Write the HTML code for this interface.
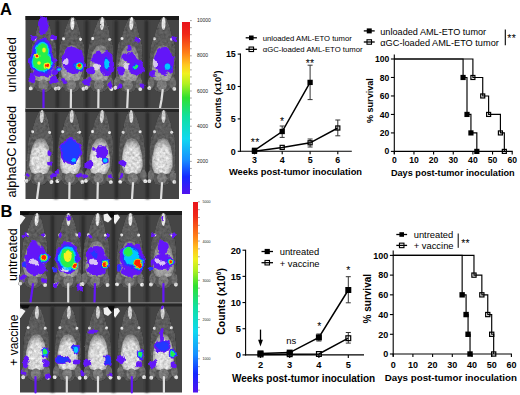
<!DOCTYPE html><html><head><meta charset="utf-8"><style>html,body{margin:0;padding:0;background:#fff;width:520px;height:395px;overflow:hidden}svg{display:block}text{font-family:"Liberation Sans",sans-serif}</style></head><body>
<svg width="520" height="395" viewBox="0 0 520 395">
<defs>
<filter id="soft" filterUnits="userSpaceOnUse" x="0" y="0" width="520" height="395"><feGaussianBlur stdDeviation="0.7"/></filter>
<filter id="lane" filterUnits="userSpaceOnUse" x="0" y="0" width="520" height="395"><feGaussianBlur stdDeviation="1.2"/></filter>
<filter id="glow" filterUnits="userSpaceOnUse" x="0" y="0" width="520" height="395"><feGaussianBlur stdDeviation="0.5"/></filter>
<filter id="blobf" filterUnits="userSpaceOnUse" x="0" y="0" width="520" height="395">
<feTurbulence type="fractalNoise" baseFrequency="0.16" numOctaves="2" seed="3" result="t"/>
<feDisplacementMap in="SourceGraphic" in2="t" scale="6" xChannelSelector="R" yChannelSelector="G" result="d"/>
<feGaussianBlur in="d" stdDeviation="0.45"/>
</filter>
<filter id="blobf2" filterUnits="userSpaceOnUse" x="0" y="0" width="520" height="395">
<feTurbulence type="fractalNoise" baseFrequency="0.16" numOctaves="2" seed="3" result="t"/>
<feDisplacementMap in="SourceGraphic" in2="t" scale="3" xChannelSelector="R" yChannelSelector="G" result="d"/>
<feGaussianBlur in="d" stdDeviation="0.45"/>
</filter>
<filter id="fur" filterUnits="userSpaceOnUse" x="0" y="0" width="520" height="395">
<feTurbulence type="fractalNoise" baseFrequency="0.35" numOctaves="3" seed="7" result="n"/>
<feColorMatrix in="n" type="matrix" values="0.33 0.33 0.33 0 0 0.33 0.33 0.33 0 0 0.33 0.33 0.33 0 0 0 0 0 0 1" result="g"/>
<feComposite in="SourceGraphic" in2="g" operator="arithmetic" k1="1.8" k2="0.1" k3="0" k4="0" result="m"/>
<feDisplacementMap in="m" in2="n" scale="1.6" xChannelSelector="R" yChannelSelector="G" result="d"/>
<feGaussianBlur in="d" stdDeviation="0.55"/>
</filter>
<linearGradient id="cbA" x1="0" y1="0" x2="0" y2="1">
<stop offset="0" stop-color="#e8141c"/><stop offset="0.07" stop-color="#f02818"/><stop offset="0.18" stop-color="#ff8018"/><stop offset="0.25" stop-color="#ffc820"/>
<stop offset="0.30" stop-color="#f0f020"/><stop offset="0.36" stop-color="#b0f020"/><stop offset="0.44" stop-color="#30e030"/><stop offset="0.55" stop-color="#10e0a0"/>
<stop offset="0.68" stop-color="#10d8f0"/><stop offset="0.80" stop-color="#1890ff"/><stop offset="0.90" stop-color="#1428ff"/><stop offset="1" stop-color="#5212ee"/>
</linearGradient>
<linearGradient id="cbB" x1="0" y1="0" x2="0" y2="1">
<stop offset="0" stop-color="#e8141c"/><stop offset="0.07" stop-color="#f02818"/><stop offset="0.18" stop-color="#ff8018"/><stop offset="0.25" stop-color="#ffc820"/>
<stop offset="0.30" stop-color="#f0f020"/><stop offset="0.36" stop-color="#b0f020"/><stop offset="0.44" stop-color="#30e030"/><stop offset="0.55" stop-color="#10e0a0"/>
<stop offset="0.68" stop-color="#10d8f0"/><stop offset="0.80" stop-color="#1890ff"/><stop offset="0.90" stop-color="#1428ff"/><stop offset="1" stop-color="#5212ee"/>
</linearGradient>
</defs>
<text x="0" y="0" font-size="16.5" font-weight="bold" text-anchor="start" transform="translate(0 15) scale(1 1.0)">A</text>
<text x="0" y="0" font-size="16.5" font-weight="bold" text-anchor="start" transform="translate(0.5 216.5) scale(1 1.0)">B</text>
<rect x="25.5" y="16" width="153.5" height="183" fill="#454545"/>
<rect x="25.5" y="16" width="153.5" height="4" fill="#1c1c1c"/>
<g filter="url(#lane)"><rect x="55.8" y="20" width="3.5" height="88" fill="#2c2c2c"/><rect x="85.0" y="20" width="3.5" height="88" fill="#2c2c2c"/><rect x="114.2" y="20" width="3.5" height="88" fill="#2c2c2c"/><rect x="144.8" y="20" width="3.5" height="88" fill="#2c2c2c"/></g>
<g filter="url(#fur)"><g transform="rotate(0.40 43.50 57.00)"><path d="M43.50,27.00 L48.50,32.00 L53.00,38.00 L55.50,45.00 L56.50,57.00 L56.50,69.00 L56.00,77.00 L54.00,85.00 L49.50,91.00 L43.50,93.00 L37.50,91.00 L33.00,85.00 L31.00,77.00 L30.50,69.00 L30.50,57.00 L31.50,45.00 L34.00,38.00 L38.50,32.00 L43.50,27.00 Z" fill="#575757"/><path d="M43.50,17.00 L46.00,18.50 L48.00,22.00 L49.50,26.00 L51.00,31.00 L52.30,37.00 L53.00,42.00 L51.50,46.00 L43.50,47.00 L35.50,46.00 L34.00,42.00 L34.70,37.00 L36.00,31.00 L37.50,26.00 L39.00,22.00 L41.00,18.50 L43.50,17.00 Z" fill="#5c5c5c"/><path d="M43.50,45.00 L48.00,46.50 L51.50,53.00 L53.50,63.00 L54.00,73.00 L51.50,80.00 L43.50,82.00 L35.50,80.00 L33.00,73.00 L33.50,63.00 L35.50,53.00 L39.00,46.50 L43.50,45.00 Z" fill="url(#bga0a0a0)"/><ellipse cx="43.5" cy="85.0" rx="5.0" ry="5.5" fill="#7a7a7a"/><ellipse cx="43.5" cy="23.5" rx="2.0" ry="6.5" fill="#e4e4e4"/><circle cx="35.0" cy="39.0" r="1.5" fill="#e2e2e2"/><ellipse cx="32.5" cy="83.0" rx="3.2" ry="6.0" fill="#6c6c6c"/><circle cx="31.0" cy="88.5" r="1.9" fill="#dedede"/><circle cx="52.0" cy="39.0" r="1.5" fill="#e2e2e2"/><ellipse cx="54.5" cy="83.0" rx="3.2" ry="6.0" fill="#6c6c6c"/><circle cx="56.0" cy="88.5" r="1.9" fill="#dedede"/></g></g>
<g filter="url(#fur)"><g transform="rotate(1.21 71.70 57.00)"><path d="M71.70,27.00 L76.70,32.00 L81.20,38.00 L83.70,45.00 L84.70,57.00 L84.70,69.00 L84.20,77.00 L82.20,85.00 L77.70,91.00 L71.70,93.00 L65.70,91.00 L61.20,85.00 L59.20,77.00 L58.70,69.00 L58.70,57.00 L59.70,45.00 L62.20,38.00 L66.70,32.00 L71.70,27.00 Z" fill="#575757"/><path d="M71.70,17.00 L74.20,18.50 L76.20,22.00 L77.70,26.00 L79.20,31.00 L80.50,37.00 L81.20,42.00 L79.70,46.00 L71.70,47.00 L63.70,46.00 L62.20,42.00 L62.90,37.00 L64.20,31.00 L65.70,26.00 L67.20,22.00 L69.20,18.50 L71.70,17.00 Z" fill="#5c5c5c"/><path d="M71.70,45.00 L76.20,46.50 L79.70,53.00 L81.70,63.00 L82.20,73.00 L79.70,80.00 L71.70,82.00 L63.70,80.00 L61.20,73.00 L61.70,63.00 L63.70,53.00 L67.20,46.50 L71.70,45.00 Z" fill="url(#bga0a0a0)"/><ellipse cx="71.69999999999999" cy="85.0" rx="5.0" ry="5.5" fill="#7a7a7a"/><ellipse cx="71.69999999999999" cy="23.5" rx="2.0" ry="6.5" fill="#e4e4e4"/><circle cx="63.19999999999999" cy="39.0" r="1.5" fill="#e2e2e2"/><ellipse cx="60.69999999999999" cy="83.0" rx="3.2" ry="6.0" fill="#6c6c6c"/><circle cx="59.19999999999999" cy="88.5" r="1.9" fill="#dedede"/><circle cx="80.19999999999999" cy="39.0" r="1.5" fill="#e2e2e2"/><ellipse cx="82.69999999999999" cy="83.0" rx="3.2" ry="6.0" fill="#6c6c6c"/><circle cx="84.19999999999999" cy="88.5" r="1.9" fill="#dedede"/></g></g>
<g filter="url(#fur)"><g transform="rotate(2.76 100.35 57.00)"><path d="M100.35,27.00 L105.35,32.00 L109.85,38.00 L112.35,45.00 L113.35,57.00 L113.35,69.00 L112.85,77.00 L110.85,85.00 L106.35,91.00 L100.35,93.00 L94.35,91.00 L89.85,85.00 L87.85,77.00 L87.35,69.00 L87.35,57.00 L88.35,45.00 L90.85,38.00 L95.35,32.00 L100.35,27.00 Z" fill="#575757"/><path d="M100.35,17.00 L102.85,18.50 L104.85,22.00 L106.35,26.00 L107.85,31.00 L109.15,37.00 L109.85,42.00 L108.35,46.00 L100.35,47.00 L92.35,46.00 L90.85,42.00 L91.55,37.00 L92.85,31.00 L94.35,26.00 L95.85,22.00 L97.85,18.50 L100.35,17.00 Z" fill="#5c5c5c"/><path d="M100.35,45.00 L104.85,46.50 L108.35,53.00 L110.35,63.00 L110.85,73.00 L108.35,80.00 L100.35,82.00 L92.35,80.00 L89.85,73.00 L90.35,63.00 L92.35,53.00 L95.85,46.50 L100.35,45.00 Z" fill="url(#bga0a0a0)"/><ellipse cx="100.35" cy="85.0" rx="5.0" ry="5.5" fill="#7a7a7a"/><ellipse cx="100.35" cy="23.5" rx="2.0" ry="6.5" fill="#e4e4e4"/><circle cx="91.85" cy="39.0" r="1.5" fill="#e2e2e2"/><ellipse cx="89.35" cy="83.0" rx="3.2" ry="6.0" fill="#6c6c6c"/><circle cx="87.85" cy="88.5" r="1.9" fill="#dedede"/><circle cx="108.85" cy="39.0" r="1.5" fill="#e2e2e2"/><ellipse cx="111.35" cy="83.0" rx="3.2" ry="6.0" fill="#6c6c6c"/><circle cx="112.85" cy="88.5" r="1.9" fill="#dedede"/></g></g>
<g filter="url(#fur)"><g transform="rotate(3.16 129.55 57.00)"><path d="M129.55,27.00 L134.55,32.00 L139.05,38.00 L141.55,45.00 L142.55,57.00 L142.55,69.00 L142.05,77.00 L140.05,85.00 L135.55,91.00 L129.55,93.00 L123.55,91.00 L119.05,85.00 L117.05,77.00 L116.55,69.00 L116.55,57.00 L117.55,45.00 L120.05,38.00 L124.55,32.00 L129.55,27.00 Z" fill="#575757"/><path d="M129.55,17.00 L132.05,18.50 L134.05,22.00 L135.55,26.00 L137.05,31.00 L138.35,37.00 L139.05,42.00 L137.55,46.00 L129.55,47.00 L121.55,46.00 L120.05,42.00 L120.75,37.00 L122.05,31.00 L123.55,26.00 L125.05,22.00 L127.05,18.50 L129.55,17.00 Z" fill="#5c5c5c"/><path d="M129.55,45.00 L134.05,46.50 L137.55,53.00 L139.55,63.00 L140.05,73.00 L137.55,80.00 L129.55,82.00 L121.55,80.00 L119.05,73.00 L119.55,63.00 L121.55,53.00 L125.05,46.50 L129.55,45.00 Z" fill="url(#bga0a0a0)"/><ellipse cx="129.55" cy="85.0" rx="5.0" ry="5.5" fill="#7a7a7a"/><ellipse cx="129.55" cy="23.5" rx="2.0" ry="6.5" fill="#e4e4e4"/><circle cx="121.05000000000001" cy="39.0" r="1.5" fill="#e2e2e2"/><ellipse cx="118.55000000000001" cy="83.0" rx="3.2" ry="6.0" fill="#6c6c6c"/><circle cx="117.05000000000001" cy="88.5" r="1.9" fill="#dedede"/><circle cx="138.05" cy="39.0" r="1.5" fill="#e2e2e2"/><ellipse cx="140.55" cy="83.0" rx="3.2" ry="6.0" fill="#6c6c6c"/><circle cx="142.05" cy="88.5" r="1.9" fill="#dedede"/></g></g>
<g filter="url(#fur)"><g transform="rotate(1.55 162.65 57.00)"><path d="M162.65,27.00 L167.65,32.00 L172.15,38.00 L174.65,45.00 L175.65,57.00 L175.65,69.00 L175.15,77.00 L173.15,85.00 L168.65,91.00 L162.65,93.00 L156.65,91.00 L152.15,85.00 L150.15,77.00 L149.65,69.00 L149.65,57.00 L150.65,45.00 L153.15,38.00 L157.65,32.00 L162.65,27.00 Z" fill="#575757"/><path d="M162.65,17.00 L165.15,18.50 L167.15,22.00 L168.65,26.00 L170.15,31.00 L171.45,37.00 L172.15,42.00 L170.65,46.00 L162.65,47.00 L154.65,46.00 L153.15,42.00 L153.85,37.00 L155.15,31.00 L156.65,26.00 L158.15,22.00 L160.15,18.50 L162.65,17.00 Z" fill="#5c5c5c"/><path d="M162.65,45.00 L167.15,46.50 L170.65,53.00 L172.65,63.00 L173.15,73.00 L170.65,80.00 L162.65,82.00 L154.65,80.00 L152.15,73.00 L152.65,63.00 L154.65,53.00 L158.15,46.50 L162.65,45.00 Z" fill="url(#bga0a0a0)"/><ellipse cx="162.65" cy="85.0" rx="5.0" ry="5.5" fill="#7a7a7a"/><ellipse cx="162.65" cy="23.5" rx="2.0" ry="6.5" fill="#e4e4e4"/><circle cx="154.15" cy="39.0" r="1.5" fill="#e2e2e2"/><ellipse cx="151.65" cy="83.0" rx="3.2" ry="6.0" fill="#6c6c6c"/><circle cx="150.15" cy="88.5" r="1.9" fill="#dedede"/><circle cx="171.15" cy="39.0" r="1.5" fill="#e2e2e2"/><ellipse cx="173.65" cy="83.0" rx="3.2" ry="6.0" fill="#6c6c6c"/><circle cx="175.15" cy="88.5" r="1.9" fill="#dedede"/></g></g>
<polyline points="43.5,90 43.5,108" fill="none" stroke="#6418f8" stroke-width="2.2" stroke-linecap="round" filter="url(#soft)"/>
<polyline points="71,90 70.8,108" fill="none" stroke="#dedede" stroke-width="2.2" stroke-linecap="round" filter="url(#soft)"/>
<polyline points="98.5,90 98.3,108" fill="none" stroke="#dedede" stroke-width="2.2" stroke-linecap="round" filter="url(#soft)"/>
<polyline points="128,90 127.2,108" fill="none" stroke="#dedede" stroke-width="2.2" stroke-linecap="round" filter="url(#soft)"/>
<polyline points="162.7,90 161.5,100 160,108" fill="none" stroke="#dedede" stroke-width="2.2" stroke-linecap="round" filter="url(#soft)"/>
<g filter="url(#blobf)">
<ellipse cx="43.5" cy="25" rx="4.50" ry="9.00" fill="#6418f8"/>
<ellipse cx="34" cy="38" rx="3.50" ry="2.50" fill="#6418f8"/>
<ellipse cx="53.5" cy="38" rx="3.50" ry="2.50" fill="#6418f8"/>
<ellipse cx="42.5" cy="51" rx="9.50" ry="13.00" fill="#6418f8"/>
<ellipse cx="42.2" cy="62" rx="13.30" ry="12.00" fill="#6418f8"/>
<ellipse cx="42" cy="73" rx="10.00" ry="4.00" fill="#6418f8"/>
<ellipse cx="31" cy="78" rx="3.50" ry="5.00" fill="#6418f8"/>
<ellipse cx="54" cy="80" rx="4.00" ry="4.00" fill="#6418f8"/>
<ellipse cx="55" cy="72" rx="3.00" ry="3.00" fill="#6418f8"/>
<ellipse cx="73" cy="60" rx="11.00" ry="14.00" fill="#6418f8"/>
<ellipse cx="79.3" cy="66.2" rx="6.00" ry="6.00" fill="#6418f8"/>
<ellipse cx="59" cy="69" rx="3.00" ry="3.00" fill="#6418f8"/>
<ellipse cx="64" cy="81" rx="2.50" ry="3.00" fill="#6418f8"/>
<ellipse cx="85" cy="82" rx="3.00" ry="3.00" fill="#6418f8"/>
<ellipse cx="98.3" cy="58.4" rx="6.00" ry="7.00" fill="#6418f8"/>
<ellipse cx="106.5" cy="63" rx="7.50" ry="13.00" fill="#6418f8"/>
<ellipse cx="107" cy="64" rx="4.50" ry="8.00" fill="#6418f8"/>
<ellipse cx="91" cy="70.4" rx="4.00" ry="4.00" fill="#6418f8"/>
<ellipse cx="89" cy="82" rx="2.50" ry="3.00" fill="#6418f8"/>
<ellipse cx="110" cy="85" rx="2.50" ry="3.00" fill="#6418f8"/>
<ellipse cx="129.6" cy="48.7" rx="3.00" ry="3.00" fill="#6418f8"/>
<ellipse cx="136.8" cy="40.3" rx="2.50" ry="2.50" fill="#6418f8"/>
<ellipse cx="130" cy="58.4" rx="8.00" ry="5.00" fill="#6418f8" transform="rotate(20 130 58.4)"/>
<ellipse cx="136" cy="67" rx="8.00" ry="9.00" fill="#6418f8"/>
<ellipse cx="135.5" cy="67" rx="5.00" ry="3.00" fill="#6418f8" transform="rotate(-40 135.5 67)"/>
<ellipse cx="121" cy="70.4" rx="4.00" ry="4.00" fill="#6418f8"/>
<ellipse cx="120" cy="86" rx="2.50" ry="2.50" fill="#6418f8"/>
<ellipse cx="142" cy="86" rx="2.50" ry="2.50" fill="#6418f8"/>
<ellipse cx="164" cy="61" rx="10.00" ry="14.00" fill="#6418f8"/>
<ellipse cx="167.5" cy="66.6" rx="4.50" ry="5.00" fill="#6418f8"/>
<ellipse cx="152" cy="74" rx="3.00" ry="3.00" fill="#6418f8"/>
<ellipse cx="174.8" cy="39" rx="2.50" ry="2.50" fill="#6418f8"/>
<ellipse cx="42.5" cy="51" rx="8.07" ry="11.05" fill="#2238ff"/>
<ellipse cx="42.2" cy="62" rx="11.97" ry="10.80" fill="#2238ff"/>
<ellipse cx="79.3" cy="66.2" rx="4.68" ry="4.68" fill="#2238ff"/>
<ellipse cx="59" cy="69" rx="2.34" ry="2.34" fill="#2238ff"/>
<ellipse cx="107" cy="64" rx="3.51" ry="6.24" fill="#2238ff"/>
<ellipse cx="135.5" cy="67" rx="3.90" ry="2.34" fill="#2238ff" transform="rotate(-40 135.5 67)"/>
<ellipse cx="167.5" cy="66.6" rx="3.51" ry="3.90" fill="#2238ff"/>
</g>
<g filter="url(#blobf2)">
<ellipse cx="42.5" cy="51" rx="6.84" ry="9.36" fill="#00c8ff"/>
<ellipse cx="42.2" cy="62" rx="10.64" ry="9.60" fill="#00c8ff"/>
<ellipse cx="79.3" cy="66.2" rx="3.72" ry="3.72" fill="#00c8ff"/>
<ellipse cx="59" cy="69" rx="1.86" ry="1.86" fill="#00c8ff"/>
<ellipse cx="107" cy="64" rx="2.79" ry="4.96" fill="#00c8ff"/>
<ellipse cx="135.5" cy="67" rx="3.10" ry="1.86" fill="#00c8ff" transform="rotate(-40 135.5 67)"/>
<ellipse cx="167.5" cy="66.6" rx="2.79" ry="3.10" fill="#00c8ff"/>
<ellipse cx="42.5" cy="51" rx="5.70" ry="7.80" fill="#28f048"/>
<ellipse cx="42.2" cy="62" rx="9.31" ry="8.40" fill="#28f048"/>
<ellipse cx="79.3" cy="66.2" rx="3.00" ry="3.00" fill="#28f048"/>
<ellipse cx="135.5" cy="67" rx="2.50" ry="1.50" fill="#28f048" transform="rotate(-40 135.5 67)"/>
<ellipse cx="37" cy="56" rx="2.40" ry="2.40" fill="#f8f020"/>
<ellipse cx="47" cy="66" rx="3.40" ry="3.40" fill="#f8f020"/>
<ellipse cx="39" cy="63" rx="1.80" ry="1.80" fill="#f8f020"/>
<ellipse cx="44" cy="50" rx="1.80" ry="2.50" fill="#f8f020"/>
<ellipse cx="79.3" cy="66.2" rx="2.40" ry="2.40" fill="#f8f020"/>
<ellipse cx="37" cy="56" rx="1.35" ry="1.35" fill="#ff2000"/>
<ellipse cx="47" cy="66" rx="2.20" ry="2.20" fill="#ff2000"/>
<ellipse cx="79.3" cy="66.2" rx="1.80" ry="1.80" fill="#ff2000"/>
</g>
<g filter="url(#blobf)"><ellipse cx="66" cy="62" rx="2.5" ry="3" fill="#e8e0f0" opacity="0.85"/><ellipse cx="97" cy="67" rx="3" ry="2.5" fill="#e8e0f0" opacity="0.85"/><ellipse cx="126" cy="66" rx="2.5" ry="3" fill="#e8e0f0" opacity="0.85"/><ellipse cx="155.5" cy="63" rx="2.5" ry="3.5" fill="#e8e0f0" opacity="0.85"/></g>
<rect x="25.5" y="108" width="153.5" height="1" fill="#9a9a9a"/>
<rect x="25.5" y="109" width="153.5" height="3" fill="#262626"/>
<g filter="url(#lane)"><rect x="54.2" y="112" width="3.5" height="87" fill="#2c2c2c"/><rect x="84.2" y="112" width="3.5" height="87" fill="#2c2c2c"/><rect x="114.8" y="112" width="3.5" height="87" fill="#2c2c2c"/><rect x="145.8" y="112" width="3.5" height="87" fill="#2c2c2c"/></g>
<g filter="url(#fur)"><g transform="rotate(2.49 40.35 150.00)"><path d="M40.35,120.00 L45.35,125.00 L49.85,131.00 L52.35,138.00 L53.35,150.00 L53.35,162.00 L52.85,170.00 L50.85,178.00 L46.35,184.00 L40.35,186.00 L34.35,184.00 L29.85,178.00 L27.85,170.00 L27.35,162.00 L27.35,150.00 L28.35,138.00 L30.85,131.00 L35.35,125.00 L40.35,120.00 Z" fill="#575757"/><path d="M40.35,110.00 L42.85,111.50 L44.85,115.00 L46.35,119.00 L47.85,124.00 L49.15,130.00 L49.85,135.00 L48.35,139.00 L40.35,140.00 L32.35,139.00 L30.85,135.00 L31.55,130.00 L32.85,124.00 L34.35,119.00 L35.85,115.00 L37.85,111.50 L40.35,110.00 Z" fill="#5c5c5c"/><path d="M40.35,138.00 L44.85,139.50 L48.35,146.00 L50.35,156.00 L50.85,166.00 L48.35,173.00 L40.35,175.00 L32.35,173.00 L29.85,166.00 L30.35,156.00 L32.35,146.00 L35.85,139.50 L40.35,138.00 Z" fill="url(#bgdadada)"/><ellipse cx="40.35" cy="178.0" rx="5.0" ry="5.5" fill="#7a7a7a"/><ellipse cx="40.35" cy="116.5" rx="2.0" ry="6.5" fill="#d0d0d0"/><circle cx="31.85" cy="132.0" r="1.5" fill="#e2e2e2"/><ellipse cx="29.35" cy="176.0" rx="3.2" ry="6.0" fill="#6c6c6c"/><circle cx="27.85" cy="181.5" r="1.9" fill="#dedede"/><circle cx="48.85" cy="132.0" r="1.5" fill="#e2e2e2"/><ellipse cx="51.35" cy="176.0" rx="3.2" ry="6.0" fill="#6c6c6c"/><circle cx="52.85" cy="181.5" r="1.9" fill="#dedede"/></g></g>
<g filter="url(#fur)"><g transform="rotate(1.68 70.75 150.00)"><path d="M70.75,120.00 L75.75,125.00 L80.25,131.00 L82.75,138.00 L83.75,150.00 L83.75,162.00 L83.25,170.00 L81.25,178.00 L76.75,184.00 L70.75,186.00 L64.75,184.00 L60.25,178.00 L58.25,170.00 L57.75,162.00 L57.75,150.00 L58.75,138.00 L61.25,131.00 L65.75,125.00 L70.75,120.00 Z" fill="#575757"/><path d="M70.75,110.00 L73.25,111.50 L75.25,115.00 L76.75,119.00 L78.25,124.00 L79.55,130.00 L80.25,135.00 L78.75,139.00 L70.75,140.00 L62.75,139.00 L61.25,135.00 L61.95,130.00 L63.25,124.00 L64.75,119.00 L66.25,115.00 L68.25,111.50 L70.75,110.00 Z" fill="#5c5c5c"/><path d="M70.75,138.00 L75.25,139.50 L78.75,146.00 L80.75,156.00 L81.25,166.00 L78.75,173.00 L70.75,175.00 L62.75,173.00 L60.25,166.00 L60.75,156.00 L62.75,146.00 L66.25,139.50 L70.75,138.00 Z" fill="url(#bgdadada)"/><ellipse cx="70.75" cy="178.0" rx="5.0" ry="5.5" fill="#7a7a7a"/><ellipse cx="70.75" cy="116.5" rx="2.0" ry="6.5" fill="#d0d0d0"/><circle cx="62.25" cy="132.0" r="1.5" fill="#e2e2e2"/><ellipse cx="59.75" cy="176.0" rx="3.2" ry="6.0" fill="#6c6c6c"/><circle cx="58.25" cy="181.5" r="1.9" fill="#dedede"/><circle cx="79.25" cy="132.0" r="1.5" fill="#e2e2e2"/><ellipse cx="81.75" cy="176.0" rx="3.2" ry="6.0" fill="#6c6c6c"/><circle cx="83.25" cy="181.5" r="1.9" fill="#dedede"/></g></g>
<g filter="url(#fur)"><g transform="rotate(3.10 100.10 150.00)"><path d="M100.10,120.00 L105.10,125.00 L109.60,131.00 L112.10,138.00 L113.10,150.00 L113.10,162.00 L112.60,170.00 L110.60,178.00 L106.10,184.00 L100.10,186.00 L94.10,184.00 L89.60,178.00 L87.60,170.00 L87.10,162.00 L87.10,150.00 L88.10,138.00 L90.60,131.00 L95.10,125.00 L100.10,120.00 Z" fill="#575757"/><path d="M100.10,110.00 L102.60,111.50 L104.60,115.00 L106.10,119.00 L107.60,124.00 L108.90,130.00 L109.60,135.00 L108.10,139.00 L100.10,140.00 L92.10,139.00 L90.60,135.00 L91.30,130.00 L92.60,124.00 L94.10,119.00 L95.60,115.00 L97.60,111.50 L100.10,110.00 Z" fill="#5c5c5c"/><path d="M100.10,138.00 L104.60,139.50 L108.10,146.00 L110.10,156.00 L110.60,166.00 L108.10,173.00 L100.10,175.00 L92.10,173.00 L89.60,166.00 L90.10,156.00 L92.10,146.00 L95.60,139.50 L100.10,138.00 Z" fill="url(#bgdadada)"/><ellipse cx="100.1" cy="178.0" rx="5.0" ry="5.5" fill="#7a7a7a"/><ellipse cx="100.1" cy="116.5" rx="2.0" ry="6.5" fill="#d0d0d0"/><circle cx="91.6" cy="132.0" r="1.5" fill="#e2e2e2"/><ellipse cx="89.1" cy="176.0" rx="3.2" ry="6.0" fill="#6c6c6c"/><circle cx="87.6" cy="181.5" r="1.9" fill="#dedede"/><circle cx="108.6" cy="132.0" r="1.5" fill="#e2e2e2"/><ellipse cx="111.1" cy="176.0" rx="3.2" ry="6.0" fill="#6c6c6c"/><circle cx="112.6" cy="181.5" r="1.9" fill="#dedede"/></g></g>
<g filter="url(#fur)"><g transform="rotate(-1.35 132.00 150.00)"><path d="M132.00,120.00 L137.00,125.00 L141.50,131.00 L144.00,138.00 L145.00,150.00 L145.00,162.00 L144.50,170.00 L142.50,178.00 L138.00,184.00 L132.00,186.00 L126.00,184.00 L121.50,178.00 L119.50,170.00 L119.00,162.00 L119.00,150.00 L120.00,138.00 L122.50,131.00 L127.00,125.00 L132.00,120.00 Z" fill="#575757"/><path d="M132.00,110.00 L134.50,111.50 L136.50,115.00 L138.00,119.00 L139.50,124.00 L140.80,130.00 L141.50,135.00 L140.00,139.00 L132.00,140.00 L124.00,139.00 L122.50,135.00 L123.20,130.00 L124.50,124.00 L126.00,119.00 L127.50,115.00 L129.50,111.50 L132.00,110.00 Z" fill="#5c5c5c"/><path d="M132.00,138.00 L136.50,139.50 L140.00,146.00 L142.00,156.00 L142.50,166.00 L140.00,173.00 L132.00,175.00 L124.00,173.00 L121.50,166.00 L122.00,156.00 L124.00,146.00 L127.50,139.50 L132.00,138.00 Z" fill="url(#bgdadada)"/><ellipse cx="132.0" cy="178.0" rx="5.0" ry="5.5" fill="#7a7a7a"/><ellipse cx="132.0" cy="116.5" rx="2.0" ry="6.5" fill="#d0d0d0"/><circle cx="123.5" cy="132.0" r="1.5" fill="#e2e2e2"/><ellipse cx="121.0" cy="176.0" rx="3.2" ry="6.0" fill="#6c6c6c"/><circle cx="119.5" cy="181.5" r="1.9" fill="#dedede"/><circle cx="140.5" cy="132.0" r="1.5" fill="#e2e2e2"/><ellipse cx="143.0" cy="176.0" rx="3.2" ry="6.0" fill="#6c6c6c"/><circle cx="144.5" cy="181.5" r="1.9" fill="#dedede"/></g></g>
<g filter="url(#fur)"><g transform="rotate(1.55 162.65 150.00)"><path d="M162.65,120.00 L167.65,125.00 L172.15,131.00 L174.65,138.00 L175.65,150.00 L175.65,162.00 L175.15,170.00 L173.15,178.00 L168.65,184.00 L162.65,186.00 L156.65,184.00 L152.15,178.00 L150.15,170.00 L149.65,162.00 L149.65,150.00 L150.65,138.00 L153.15,131.00 L157.65,125.00 L162.65,120.00 Z" fill="#575757"/><path d="M162.65,110.00 L165.15,111.50 L167.15,115.00 L168.65,119.00 L170.15,124.00 L171.45,130.00 L172.15,135.00 L170.65,139.00 L162.65,140.00 L154.65,139.00 L153.15,135.00 L153.85,130.00 L155.15,124.00 L156.65,119.00 L158.15,115.00 L160.15,111.50 L162.65,110.00 Z" fill="#5c5c5c"/><path d="M162.65,138.00 L167.15,139.50 L170.65,146.00 L172.65,156.00 L173.15,166.00 L170.65,173.00 L162.65,175.00 L154.65,173.00 L152.15,166.00 L152.65,156.00 L154.65,146.00 L158.15,139.50 L162.65,138.00 Z" fill="url(#bgdadada)"/><ellipse cx="162.65" cy="178.0" rx="5.0" ry="5.5" fill="#7a7a7a"/><ellipse cx="162.65" cy="116.5" rx="2.0" ry="6.5" fill="#d0d0d0"/><circle cx="154.15" cy="132.0" r="1.5" fill="#e2e2e2"/><ellipse cx="151.65" cy="176.0" rx="3.2" ry="6.0" fill="#6c6c6c"/><circle cx="150.15" cy="181.5" r="1.9" fill="#dedede"/><circle cx="171.15" cy="132.0" r="1.5" fill="#e2e2e2"/><ellipse cx="173.65" cy="176.0" rx="3.2" ry="6.0" fill="#6c6c6c"/><circle cx="175.15" cy="181.5" r="1.9" fill="#dedede"/></g></g>
<polyline points="39,183 37,199" fill="none" stroke="#dedede" stroke-width="2.2" stroke-linecap="round" filter="url(#soft)"/>
<polyline points="69.5,183 69.3,199" fill="none" stroke="#dedede" stroke-width="2.2" stroke-linecap="round" filter="url(#soft)"/>
<polyline points="97.8,183 97.5,199" fill="none" stroke="#dedede" stroke-width="2.2" stroke-linecap="round" filter="url(#soft)"/>
<polyline points="133,183 132,199" fill="none" stroke="#dedede" stroke-width="2.2" stroke-linecap="round" filter="url(#soft)"/>
<polyline points="162,183 161,199" fill="none" stroke="#dedede" stroke-width="2.2" stroke-linecap="round" filter="url(#soft)"/>
<g filter="url(#blobf)">
<ellipse cx="49.5" cy="153.5" rx="2.00" ry="2.50" fill="#6418f8"/>
<ellipse cx="50.6" cy="164" rx="2.50" ry="2.50" fill="#6418f8"/>
<ellipse cx="27.3" cy="175.6" rx="2.50" ry="2.50" fill="#6418f8"/>
<ellipse cx="70.5" cy="151" rx="11.00" ry="13.00" fill="#6418f8"/>
<ellipse cx="74" cy="160" rx="3.50" ry="3.50" fill="#6418f8"/>
<ellipse cx="54.1" cy="175.6" rx="3.00" ry="2.50" fill="#6418f8"/>
<ellipse cx="57.6" cy="172" rx="2.00" ry="2.00" fill="#6418f8"/>
<ellipse cx="79.8" cy="175.6" rx="3.00" ry="2.50" fill="#6418f8"/>
<ellipse cx="102" cy="152" rx="6.50" ry="7.00" fill="#6418f8"/>
<ellipse cx="105.2" cy="160.4" rx="3.50" ry="3.50" fill="#6418f8"/>
<ellipse cx="94" cy="148.8" rx="2.00" ry="2.00" fill="#6418f8"/>
<ellipse cx="89.3" cy="165" rx="4.00" ry="4.00" fill="#6418f8"/>
<ellipse cx="84.7" cy="176.8" rx="2.50" ry="2.50" fill="#6418f8"/>
<ellipse cx="110.3" cy="176.8" rx="2.50" ry="2.50" fill="#6418f8"/>
<ellipse cx="122" cy="162.8" rx="3.50" ry="3.50" fill="#6418f8"/>
<ellipse cx="121" cy="176" rx="2.00" ry="2.00" fill="#6418f8"/>
<ellipse cx="70.5" cy="151" rx="9.24" ry="10.92" fill="#2238ff"/>
<ellipse cx="74" cy="160" rx="3.50" ry="3.50" fill="#2238ff"/>
<ellipse cx="105.2" cy="160.4" rx="2.73" ry="2.73" fill="#2238ff"/>
</g>
<g filter="url(#blobf2)">
<ellipse cx="74" cy="160" rx="2.10" ry="2.10" fill="#00c8ff"/>
<ellipse cx="105.2" cy="160.4" rx="2.17" ry="2.17" fill="#00c8ff"/>
</g>
<rect x="182" y="22" width="8" height="172" fill="url(#cbA)"/>
<line x1="190" y1="20.6" x2="191.8" y2="20.6" stroke="#666" stroke-width="0.6"/>
<line x1="190" y1="27.64" x2="191.8" y2="27.64" stroke="#666" stroke-width="0.6"/>
<line x1="190" y1="34.68000000000001" x2="191.8" y2="34.68000000000001" stroke="#666" stroke-width="0.6"/>
<line x1="190" y1="41.72" x2="191.8" y2="41.72" stroke="#666" stroke-width="0.6"/>
<line x1="190" y1="48.760000000000005" x2="191.8" y2="48.760000000000005" stroke="#666" stroke-width="0.6"/>
<line x1="190" y1="55.800000000000004" x2="191.8" y2="55.800000000000004" stroke="#666" stroke-width="0.6"/>
<line x1="190" y1="62.84" x2="191.8" y2="62.84" stroke="#666" stroke-width="0.6"/>
<line x1="190" y1="69.88000000000001" x2="191.8" y2="69.88000000000001" stroke="#666" stroke-width="0.6"/>
<line x1="190" y1="76.92000000000002" x2="191.8" y2="76.92000000000002" stroke="#666" stroke-width="0.6"/>
<line x1="190" y1="83.96000000000001" x2="191.8" y2="83.96000000000001" stroke="#666" stroke-width="0.6"/>
<line x1="190" y1="91.0" x2="191.8" y2="91.0" stroke="#666" stroke-width="0.6"/>
<line x1="190" y1="98.04000000000002" x2="191.8" y2="98.04000000000002" stroke="#666" stroke-width="0.6"/>
<line x1="190" y1="105.08000000000001" x2="191.8" y2="105.08000000000001" stroke="#666" stroke-width="0.6"/>
<line x1="190" y1="112.12" x2="191.8" y2="112.12" stroke="#666" stroke-width="0.6"/>
<line x1="190" y1="119.16000000000003" x2="191.8" y2="119.16000000000003" stroke="#666" stroke-width="0.6"/>
<line x1="190" y1="126.19999999999999" x2="191.8" y2="126.19999999999999" stroke="#666" stroke-width="0.6"/>
<line x1="190" y1="133.24" x2="191.8" y2="133.24" stroke="#666" stroke-width="0.6"/>
<line x1="190" y1="140.28000000000003" x2="191.8" y2="140.28000000000003" stroke="#666" stroke-width="0.6"/>
<line x1="190" y1="147.32" x2="191.8" y2="147.32" stroke="#666" stroke-width="0.6"/>
<line x1="190" y1="154.36" x2="191.8" y2="154.36" stroke="#666" stroke-width="0.6"/>
<line x1="190" y1="161.4" x2="191.8" y2="161.4" stroke="#666" stroke-width="0.6"/>
<line x1="190" y1="168.44" x2="191.8" y2="168.44" stroke="#666" stroke-width="0.6"/>
<line x1="190" y1="175.48000000000002" x2="191.8" y2="175.48000000000002" stroke="#666" stroke-width="0.6"/>
<line x1="190" y1="182.52" x2="191.8" y2="182.52" stroke="#666" stroke-width="0.6"/>
<line x1="190" y1="189.56" x2="191.8" y2="189.56" stroke="#666" stroke-width="0.6"/>
<text x="0" y="0" font-size="5" font-weight="normal" text-anchor="start" transform="translate(197 22.35) scale(1 1.0)" fill="#222">10000</text>
<text x="0" y="0" font-size="5" font-weight="normal" text-anchor="start" transform="translate(197 57.35) scale(1 1.0)" fill="#222">8000</text>
<text x="0" y="0" font-size="5" font-weight="normal" text-anchor="start" transform="translate(197 93.25) scale(1 1.0)" fill="#222">6000</text>
<text x="0" y="0" font-size="5" font-weight="normal" text-anchor="start" transform="translate(197 127.75) scale(1 1.0)" fill="#222">4000</text>
<text x="0" y="0" font-size="5" font-weight="normal" text-anchor="start" transform="translate(197 163.25) scale(1 1.0)" fill="#222">2000</text>
<rect x="20" y="211" width="162" height="181.5" fill="#454545"/>
<rect x="20" y="211" width="162" height="4" fill="#1c1c1c"/>
<g filter="url(#lane)"><rect x="50.8" y="215" width="3.5" height="87.5" fill="#2c2c2c"/><rect x="81.2" y="215" width="3.5" height="87.5" fill="#2c2c2c"/><rect x="111.8" y="215" width="3.5" height="87.5" fill="#2c2c2c"/><rect x="145.2" y="215" width="3.5" height="87.5" fill="#2c2c2c"/></g>
<g filter="url(#fur)"><g transform="rotate(3.50 34.60 253.00)"><path d="M34.60,223.00 L39.60,228.00 L44.10,234.00 L46.60,241.00 L47.60,253.00 L47.60,265.00 L47.10,273.00 L45.10,281.00 L40.60,287.00 L34.60,289.00 L28.60,287.00 L24.10,281.00 L22.10,273.00 L21.60,265.00 L21.60,253.00 L22.60,241.00 L25.10,234.00 L29.60,228.00 L34.60,223.00 Z" fill="#575757"/><path d="M34.60,213.00 L37.10,214.50 L39.10,218.00 L40.60,222.00 L42.10,227.00 L43.40,233.00 L44.10,238.00 L42.60,242.00 L34.60,243.00 L26.60,242.00 L25.10,238.00 L25.80,233.00 L27.10,227.00 L28.60,222.00 L30.10,218.00 L32.10,214.50 L34.60,213.00 Z" fill="#5c5c5c"/><path d="M34.60,241.00 L39.10,242.50 L42.60,249.00 L44.60,259.00 L45.10,269.00 L42.60,276.00 L34.60,278.00 L26.60,276.00 L24.10,269.00 L24.60,259.00 L26.60,249.00 L30.10,242.50 L34.60,241.00 Z" fill="url(#bga0a0a0)"/><ellipse cx="34.6" cy="281.0" rx="5.0" ry="5.5" fill="#7a7a7a"/><ellipse cx="34.6" cy="219.5" rx="2.0" ry="6.5" fill="#e0e0e0"/><circle cx="26.1" cy="235.0" r="1.5" fill="#e2e2e2"/><ellipse cx="23.6" cy="279.0" rx="3.2" ry="6.0" fill="#6c6c6c"/><circle cx="22.1" cy="284.5" r="1.9" fill="#dedede"/><circle cx="43.1" cy="235.0" r="1.5" fill="#e2e2e2"/><ellipse cx="45.6" cy="279.0" rx="3.2" ry="6.0" fill="#6c6c6c"/><circle cx="47.1" cy="284.5" r="1.9" fill="#dedede"/></g></g>
<g filter="url(#fur)"><g transform="rotate(0.20 68.35 253.00)"><path d="M68.35,223.00 L73.35,228.00 L77.85,234.00 L80.35,241.00 L81.35,253.00 L81.35,265.00 L80.85,273.00 L78.85,281.00 L74.35,287.00 L68.35,289.00 L62.35,287.00 L57.85,281.00 L55.85,273.00 L55.35,265.00 L55.35,253.00 L56.35,241.00 L58.85,234.00 L63.35,228.00 L68.35,223.00 Z" fill="#575757"/><path d="M68.35,213.00 L70.85,214.50 L72.85,218.00 L74.35,222.00 L75.85,227.00 L77.15,233.00 L77.85,238.00 L76.35,242.00 L68.35,243.00 L60.35,242.00 L58.85,238.00 L59.55,233.00 L60.85,227.00 L62.35,222.00 L63.85,218.00 L65.85,214.50 L68.35,213.00 Z" fill="#5c5c5c"/><path d="M68.35,241.00 L72.85,242.50 L76.35,249.00 L78.35,259.00 L78.85,269.00 L76.35,276.00 L68.35,278.00 L60.35,276.00 L57.85,269.00 L58.35,259.00 L60.35,249.00 L63.85,242.50 L68.35,241.00 Z" fill="url(#bga0a0a0)"/><ellipse cx="68.35" cy="281.0" rx="5.0" ry="5.5" fill="#7a7a7a"/><ellipse cx="68.35" cy="219.5" rx="2.0" ry="6.5" fill="#e0e0e0"/><circle cx="59.849999999999994" cy="235.0" r="1.5" fill="#e2e2e2"/><ellipse cx="57.349999999999994" cy="279.0" rx="3.2" ry="6.0" fill="#6c6c6c"/><circle cx="55.849999999999994" cy="284.5" r="1.9" fill="#dedede"/><circle cx="76.85" cy="235.0" r="1.5" fill="#e2e2e2"/><ellipse cx="79.35" cy="279.0" rx="3.2" ry="6.0" fill="#6c6c6c"/><circle cx="80.85" cy="284.5" r="1.9" fill="#dedede"/></g></g>
<g filter="url(#fur)"><g transform="rotate(2.16 96.30 253.00)"><path d="M96.30,223.00 L101.30,228.00 L105.80,234.00 L108.30,241.00 L109.30,253.00 L109.30,265.00 L108.80,273.00 L106.80,281.00 L102.30,287.00 L96.30,289.00 L90.30,287.00 L85.80,281.00 L83.80,273.00 L83.30,265.00 L83.30,253.00 L84.30,241.00 L86.80,234.00 L91.30,228.00 L96.30,223.00 Z" fill="#575757"/><path d="M96.30,213.00 L98.80,214.50 L100.80,218.00 L102.30,222.00 L103.80,227.00 L105.10,233.00 L105.80,238.00 L104.30,242.00 L96.30,243.00 L88.30,242.00 L86.80,238.00 L87.50,233.00 L88.80,227.00 L90.30,222.00 L91.80,218.00 L93.80,214.50 L96.30,213.00 Z" fill="#5c5c5c"/><path d="M96.30,241.00 L100.80,242.50 L104.30,249.00 L106.30,259.00 L106.80,269.00 L104.30,276.00 L96.30,278.00 L88.30,276.00 L85.80,269.00 L86.30,259.00 L88.30,249.00 L91.80,242.50 L96.30,241.00 Z" fill="url(#bga0a0a0)"/><ellipse cx="96.30000000000001" cy="281.0" rx="5.0" ry="5.5" fill="#7a7a7a"/><ellipse cx="96.30000000000001" cy="219.5" rx="2.0" ry="6.5" fill="#e0e0e0"/><circle cx="87.80000000000001" cy="235.0" r="1.5" fill="#e2e2e2"/><ellipse cx="85.30000000000001" cy="279.0" rx="3.2" ry="6.0" fill="#6c6c6c"/><circle cx="83.80000000000001" cy="284.5" r="1.9" fill="#dedede"/><circle cx="104.80000000000001" cy="235.0" r="1.5" fill="#e2e2e2"/><ellipse cx="107.30000000000001" cy="279.0" rx="3.2" ry="6.0" fill="#6c6c6c"/><circle cx="108.80000000000001" cy="284.5" r="1.9" fill="#dedede"/></g></g>
<g filter="url(#fur)"><g transform="rotate(0.74 129.95 253.00)"><path d="M129.95,223.00 L134.95,228.00 L139.45,234.00 L141.95,241.00 L142.95,253.00 L142.95,265.00 L142.45,273.00 L140.45,281.00 L135.95,287.00 L129.95,289.00 L123.95,287.00 L119.45,281.00 L117.45,273.00 L116.95,265.00 L116.95,253.00 L117.95,241.00 L120.45,234.00 L124.95,228.00 L129.95,223.00 Z" fill="#575757"/><path d="M129.95,213.00 L132.45,214.50 L134.45,218.00 L135.95,222.00 L137.45,227.00 L138.75,233.00 L139.45,238.00 L137.95,242.00 L129.95,243.00 L121.95,242.00 L120.45,238.00 L121.15,233.00 L122.45,227.00 L123.95,222.00 L125.45,218.00 L127.45,214.50 L129.95,213.00 Z" fill="#5c5c5c"/><path d="M129.95,241.00 L134.45,242.50 L137.95,249.00 L139.95,259.00 L140.45,269.00 L137.95,276.00 L129.95,278.00 L121.95,276.00 L119.45,269.00 L119.95,259.00 L121.95,249.00 L125.45,242.50 L129.95,241.00 Z" fill="url(#bga0a0a0)"/><ellipse cx="129.95" cy="281.0" rx="5.0" ry="5.5" fill="#7a7a7a"/><ellipse cx="129.95" cy="219.5" rx="2.0" ry="6.5" fill="#e0e0e0"/><circle cx="121.44999999999999" cy="235.0" r="1.5" fill="#e2e2e2"/><ellipse cx="118.94999999999999" cy="279.0" rx="3.2" ry="6.0" fill="#6c6c6c"/><circle cx="117.44999999999999" cy="284.5" r="1.9" fill="#dedede"/><circle cx="138.45" cy="235.0" r="1.5" fill="#e2e2e2"/><ellipse cx="140.95" cy="279.0" rx="3.2" ry="6.0" fill="#6c6c6c"/><circle cx="142.45" cy="284.5" r="1.9" fill="#dedede"/></g></g>
<g filter="url(#fur)"><g transform="rotate(0.00 163.40 253.00)"><path d="M163.40,223.00 L168.40,228.00 L172.90,234.00 L175.40,241.00 L176.40,253.00 L176.40,265.00 L175.90,273.00 L173.90,281.00 L169.40,287.00 L163.40,289.00 L157.40,287.00 L152.90,281.00 L150.90,273.00 L150.40,265.00 L150.40,253.00 L151.40,241.00 L153.90,234.00 L158.40,228.00 L163.40,223.00 Z" fill="#575757"/><path d="M163.40,213.00 L165.90,214.50 L167.90,218.00 L169.40,222.00 L170.90,227.00 L172.20,233.00 L172.90,238.00 L171.40,242.00 L163.40,243.00 L155.40,242.00 L153.90,238.00 L154.60,233.00 L155.90,227.00 L157.40,222.00 L158.90,218.00 L160.90,214.50 L163.40,213.00 Z" fill="#5c5c5c"/><path d="M163.40,241.00 L167.90,242.50 L171.40,249.00 L173.40,259.00 L173.90,269.00 L171.40,276.00 L163.40,278.00 L155.40,276.00 L152.90,269.00 L153.40,259.00 L155.40,249.00 L158.90,242.50 L163.40,241.00 Z" fill="url(#bga0a0a0)"/><ellipse cx="163.4" cy="281.0" rx="5.0" ry="5.5" fill="#7a7a7a"/><ellipse cx="163.4" cy="219.5" rx="2.0" ry="6.5" fill="#e0e0e0"/><circle cx="154.9" cy="235.0" r="1.5" fill="#e2e2e2"/><ellipse cx="152.4" cy="279.0" rx="3.2" ry="6.0" fill="#6c6c6c"/><circle cx="150.9" cy="284.5" r="1.9" fill="#dedede"/><circle cx="171.9" cy="235.0" r="1.5" fill="#e2e2e2"/><ellipse cx="174.4" cy="279.0" rx="3.2" ry="6.0" fill="#6c6c6c"/><circle cx="175.9" cy="284.5" r="1.9" fill="#dedede"/></g></g>
<polyline points="33,284 30.5,302" fill="none" stroke="#6418f8" stroke-width="2.2" stroke-linecap="round" filter="url(#soft)"/>
<polyline points="68.2,284 68.2,302" fill="none" stroke="#dedede" stroke-width="2.2" stroke-linecap="round" filter="url(#soft)"/>
<polyline points="95,284 94.5,302" fill="none" stroke="#6418f8" stroke-width="2.2" stroke-linecap="round" filter="url(#soft)"/>
<polyline points="129.4,284 129.4,302" fill="none" stroke="#dedede" stroke-width="2.2" stroke-linecap="round" filter="url(#soft)"/>
<polyline points="163.4,284 163.4,302" fill="none" stroke="#6418f8" stroke-width="2.2" stroke-linecap="round" filter="url(#soft)"/>
<g filter="url(#blobf)">
<ellipse cx="24.8" cy="235.3" rx="2.00" ry="2.00" fill="#6418f8"/>
<ellipse cx="42.9" cy="235.3" rx="2.00" ry="2.00" fill="#6418f8"/>
<ellipse cx="35.7" cy="256" rx="11.00" ry="11.00" fill="#6418f8"/>
<ellipse cx="36" cy="268" rx="10.00" ry="7.00" fill="#6418f8"/>
<ellipse cx="33" cy="246" rx="5.00" ry="5.00" fill="#6418f8"/>
<ellipse cx="43.8" cy="257.5" rx="6.00" ry="6.00" fill="#6418f8"/>
<ellipse cx="24.8" cy="264.2" rx="3.00" ry="3.00" fill="#6418f8"/>
<ellipse cx="39" cy="268" rx="5.00" ry="3.00" fill="#6418f8"/>
<ellipse cx="23.6" cy="277.5" rx="3.00" ry="3.00" fill="#6418f8"/>
<ellipse cx="44.1" cy="281" rx="3.00" ry="3.00" fill="#6418f8"/>
<ellipse cx="67.5" cy="258" rx="12.00" ry="16.00" fill="#6418f8"/>
<ellipse cx="55" cy="270" rx="2.50" ry="2.50" fill="#6418f8"/>
<ellipse cx="59.8" cy="235.3" rx="2.00" ry="2.00" fill="#6418f8"/>
<ellipse cx="79" cy="235" rx="2.00" ry="2.00" fill="#6418f8"/>
<ellipse cx="55" cy="285" rx="3.00" ry="3.00" fill="#6418f8"/>
<ellipse cx="79" cy="288" rx="3.00" ry="3.00" fill="#6418f8"/>
<ellipse cx="89.6" cy="236.5" rx="2.00" ry="2.00" fill="#6418f8"/>
<ellipse cx="107.7" cy="236.5" rx="2.00" ry="2.00" fill="#6418f8"/>
<ellipse cx="95.7" cy="257" rx="10.00" ry="12.00" fill="#6418f8"/>
<ellipse cx="96" cy="270" rx="9.00" ry="6.00" fill="#6418f8"/>
<ellipse cx="94.5" cy="254.6" rx="5.00" ry="4.00" fill="#6418f8"/>
<ellipse cx="105.3" cy="264.2" rx="4.50" ry="5.50" fill="#6418f8"/>
<ellipse cx="131.8" cy="257" rx="12.00" ry="14.00" fill="#6418f8"/>
<ellipse cx="131" cy="272" rx="9.00" ry="5.00" fill="#6418f8"/>
<ellipse cx="137.8" cy="263.5" rx="6.50" ry="7.00" fill="#6418f8"/>
<ellipse cx="119.8" cy="267.8" rx="3.00" ry="3.00" fill="#6418f8"/>
<ellipse cx="162.7" cy="218" rx="1.50" ry="2.00" fill="#6418f8"/>
<ellipse cx="68.5" cy="218" rx="1.50" ry="2.00" fill="#6418f8"/>
<ellipse cx="153" cy="235.3" rx="2.00" ry="2.00" fill="#6418f8"/>
<ellipse cx="173.6" cy="235.3" rx="2.00" ry="2.00" fill="#6418f8"/>
<ellipse cx="162.7" cy="248" rx="5.00" ry="8.00" fill="#6418f8"/>
<ellipse cx="162.7" cy="262" rx="11.00" ry="8.00" fill="#6418f8"/>
<ellipse cx="170.7" cy="261.8" rx="4.50" ry="5.00" fill="#6418f8"/>
<ellipse cx="150.7" cy="269" rx="3.00" ry="3.00" fill="#6418f8"/>
<ellipse cx="43.8" cy="257.5" rx="5.10" ry="5.10" fill="#2238ff"/>
<ellipse cx="24.8" cy="264.2" rx="2.34" ry="2.34" fill="#2238ff"/>
<ellipse cx="67.5" cy="258" rx="10.20" ry="13.60" fill="#2238ff"/>
<ellipse cx="55" cy="270" rx="1.95" ry="1.95" fill="#2238ff"/>
<ellipse cx="94.5" cy="254.6" rx="3.90" ry="3.12" fill="#2238ff"/>
<ellipse cx="105.3" cy="264.2" rx="3.82" ry="4.67" fill="#2238ff"/>
<ellipse cx="131.8" cy="257" rx="9.36" ry="10.92" fill="#2238ff"/>
<ellipse cx="137.8" cy="263.5" rx="5.85" ry="6.30" fill="#2238ff"/>
<ellipse cx="119.8" cy="267.8" rx="2.34" ry="2.34" fill="#2238ff"/>
<ellipse cx="170.7" cy="261.8" rx="3.51" ry="3.90" fill="#2238ff"/>
<ellipse cx="150.7" cy="269" rx="2.34" ry="2.34" fill="#2238ff"/>
</g>
<g filter="url(#blobf2)">
<ellipse cx="43.8" cy="257.5" rx="4.32" ry="4.32" fill="#00c8ff"/>
<ellipse cx="67.5" cy="258" rx="8.64" ry="11.52" fill="#00c8ff"/>
<ellipse cx="74.6" cy="265.8" rx="4.05" ry="4.05" fill="#00c8ff"/>
<ellipse cx="105.3" cy="264.2" rx="3.24" ry="3.96" fill="#00c8ff"/>
<ellipse cx="131.8" cy="257" rx="7.44" ry="8.68" fill="#00c8ff"/>
<ellipse cx="128.2" cy="252.2" rx="5.50" ry="5.50" fill="#00c8ff"/>
<ellipse cx="137.8" cy="263.5" rx="5.20" ry="5.60" fill="#00c8ff"/>
<ellipse cx="170.7" cy="261.8" rx="2.79" ry="3.10" fill="#00c8ff"/>
<ellipse cx="43.8" cy="257.5" rx="3.60" ry="3.60" fill="#28f048"/>
<ellipse cx="67.5" cy="258" rx="7.20" ry="9.60" fill="#28f048"/>
<ellipse cx="74.6" cy="265.8" rx="3.60" ry="3.60" fill="#28f048"/>
<ellipse cx="105.3" cy="264.2" rx="2.79" ry="3.41" fill="#28f048"/>
<ellipse cx="128.2" cy="252.2" rx="4.40" ry="4.40" fill="#28f048"/>
<ellipse cx="137.8" cy="263.5" rx="4.68" ry="5.04" fill="#28f048"/>
<ellipse cx="170.7" cy="261.8" rx="2.25" ry="2.50" fill="#28f048"/>
<ellipse cx="43.8" cy="257.5" rx="3.00" ry="3.00" fill="#f8f020"/>
<ellipse cx="67.7" cy="256" rx="4.00" ry="6.00" fill="#f8f020"/>
<ellipse cx="74.6" cy="265.8" rx="2.93" ry="2.93" fill="#f8f020"/>
<ellipse cx="105.3" cy="264.2" rx="2.34" ry="2.86" fill="#f8f020"/>
<ellipse cx="137.8" cy="263.5" rx="4.16" ry="4.48" fill="#f8f020"/>
<ellipse cx="170.7" cy="261.8" rx="1.80" ry="2.00" fill="#f8f020"/>
<ellipse cx="43.8" cy="257.5" rx="2.40" ry="2.40" fill="#ff2000"/>
<ellipse cx="74.6" cy="265.8" rx="2.25" ry="2.25" fill="#ff2000"/>
<ellipse cx="105.3" cy="264.2" rx="1.57" ry="1.92" fill="#ff2000"/>
<ellipse cx="137.8" cy="263.5" rx="3.64" ry="3.92" fill="#ff2000"/>
<ellipse cx="170.7" cy="261.8" rx="1.35" ry="1.50" fill="#ff2000"/>
</g>
<g filter="url(#blobf)"><ellipse cx="34" cy="262" rx="4.5" ry="2.5" fill="#ece4f4" opacity="0.85"/><ellipse cx="64.6" cy="269.6" rx="3" ry="2" fill="#ece4f4" opacity="0.85"/><ellipse cx="93" cy="262" rx="4" ry="2.5" fill="#ece4f4" opacity="0.85"/><ellipse cx="158" cy="260" rx="3.5" ry="2.5" fill="#ece4f4" opacity="0.85"/><ellipse cx="163" cy="263" rx="2.5" ry="2" fill="#ece4f4" opacity="0.85"/></g>
<rect x="20" y="302.5" width="162" height="1" fill="#9a9a9a"/>
<rect x="20" y="303.5" width="162" height="3" fill="#262626"/>
<g filter="url(#lane)"><rect x="50.8" y="306.5" width="3.5" height="86.0" fill="#2c2c2c"/><rect x="81.2" y="306.5" width="3.5" height="86.0" fill="#2c2c2c"/><rect x="111.8" y="306.5" width="3.5" height="86.0" fill="#2c2c2c"/><rect x="145.2" y="306.5" width="3.5" height="86.0" fill="#2c2c2c"/></g>
<g filter="url(#fur)"><g transform="rotate(1.15 36.35 346.00)"><path d="M36.35,316.00 L41.35,321.00 L45.85,327.00 L48.35,334.00 L49.35,346.00 L49.35,358.00 L48.85,366.00 L46.85,374.00 L42.35,380.00 L36.35,382.00 L30.35,380.00 L25.85,374.00 L23.85,366.00 L23.35,358.00 L23.35,346.00 L24.35,334.00 L26.85,327.00 L31.35,321.00 L36.35,316.00 Z" fill="#575757"/><path d="M36.35,306.00 L38.85,307.50 L40.85,311.00 L42.35,315.00 L43.85,320.00 L45.15,326.00 L45.85,331.00 L44.35,335.00 L36.35,336.00 L28.35,335.00 L26.85,331.00 L27.55,326.00 L28.85,320.00 L30.35,315.00 L31.85,311.00 L33.85,307.50 L36.35,306.00 Z" fill="#5c5c5c"/><path d="M36.35,334.00 L40.85,335.50 L44.35,342.00 L46.35,352.00 L46.85,362.00 L44.35,369.00 L36.35,371.00 L28.35,369.00 L25.85,362.00 L26.35,352.00 L28.35,342.00 L31.85,335.50 L36.35,334.00 Z" fill="url(#bgdadada)"/><ellipse cx="36.35" cy="374.0" rx="5.0" ry="5.5" fill="#7a7a7a"/><ellipse cx="36.35" cy="312.5" rx="2.0" ry="6.5" fill="#d0d0d0"/><circle cx="27.85" cy="328.0" r="1.5" fill="#e2e2e2"/><ellipse cx="25.35" cy="372.0" rx="3.2" ry="6.0" fill="#6c6c6c"/><circle cx="23.85" cy="377.5" r="1.9" fill="#dedede"/><circle cx="44.85" cy="328.0" r="1.5" fill="#e2e2e2"/><ellipse cx="47.35" cy="372.0" rx="3.2" ry="6.0" fill="#6c6c6c"/><circle cx="48.85" cy="377.5" r="1.9" fill="#dedede"/></g></g>
<g filter="url(#fur)"><g transform="rotate(1.55 67.95 346.00)"><path d="M67.95,316.00 L72.95,321.00 L77.45,327.00 L79.95,334.00 L80.95,346.00 L80.95,358.00 L80.45,366.00 L78.45,374.00 L73.95,380.00 L67.95,382.00 L61.95,380.00 L57.45,374.00 L55.45,366.00 L54.95,358.00 L54.95,346.00 L55.95,334.00 L58.45,327.00 L62.95,321.00 L67.95,316.00 Z" fill="#575757"/><path d="M67.95,306.00 L70.45,307.50 L72.45,311.00 L73.95,315.00 L75.45,320.00 L76.75,326.00 L77.45,331.00 L75.95,335.00 L67.95,336.00 L59.95,335.00 L58.45,331.00 L59.15,326.00 L60.45,320.00 L61.95,315.00 L63.45,311.00 L65.45,307.50 L67.95,306.00 Z" fill="#5c5c5c"/><path d="M67.95,334.00 L72.45,335.50 L75.95,342.00 L77.95,352.00 L78.45,362.00 L75.95,369.00 L67.95,371.00 L59.95,369.00 L57.45,362.00 L57.95,352.00 L59.95,342.00 L63.45,335.50 L67.95,334.00 Z" fill="url(#bgdadada)"/><ellipse cx="67.94999999999999" cy="374.0" rx="5.0" ry="5.5" fill="#7a7a7a"/><ellipse cx="67.94999999999999" cy="312.5" rx="2.0" ry="6.5" fill="#d0d0d0"/><circle cx="59.44999999999999" cy="328.0" r="1.5" fill="#e2e2e2"/><ellipse cx="56.94999999999999" cy="372.0" rx="3.2" ry="6.0" fill="#6c6c6c"/><circle cx="55.44999999999999" cy="377.5" r="1.9" fill="#dedede"/><circle cx="76.44999999999999" cy="328.0" r="1.5" fill="#e2e2e2"/><ellipse cx="78.94999999999999" cy="372.0" rx="3.2" ry="6.0" fill="#6c6c6c"/><circle cx="80.44999999999999" cy="377.5" r="1.9" fill="#dedede"/></g></g>
<g filter="url(#fur)"><g transform="rotate(-0.07 97.95 346.00)"><path d="M97.95,316.00 L102.95,321.00 L107.45,327.00 L109.95,334.00 L110.95,346.00 L110.95,358.00 L110.45,366.00 L108.45,374.00 L103.95,380.00 L97.95,382.00 L91.95,380.00 L87.45,374.00 L85.45,366.00 L84.95,358.00 L84.95,346.00 L85.95,334.00 L88.45,327.00 L92.95,321.00 L97.95,316.00 Z" fill="#575757"/><path d="M97.95,306.00 L100.45,307.50 L102.45,311.00 L103.95,315.00 L105.45,320.00 L106.75,326.00 L107.45,331.00 L105.95,335.00 L97.95,336.00 L89.95,335.00 L88.45,331.00 L89.15,326.00 L90.45,320.00 L91.95,315.00 L93.45,311.00 L95.45,307.50 L97.95,306.00 Z" fill="#5c5c5c"/><path d="M97.95,334.00 L102.45,335.50 L105.95,342.00 L107.95,352.00 L108.45,362.00 L105.95,369.00 L97.95,371.00 L89.95,369.00 L87.45,362.00 L87.95,352.00 L89.95,342.00 L93.45,335.50 L97.95,334.00 Z" fill="url(#bgdadada)"/><ellipse cx="97.95" cy="374.0" rx="5.0" ry="5.5" fill="#7a7a7a"/><ellipse cx="97.95" cy="312.5" rx="2.0" ry="6.5" fill="#d0d0d0"/><circle cx="89.45" cy="328.0" r="1.5" fill="#e2e2e2"/><ellipse cx="86.95" cy="372.0" rx="3.2" ry="6.0" fill="#6c6c6c"/><circle cx="85.45" cy="377.5" r="1.9" fill="#dedede"/><circle cx="106.45" cy="328.0" r="1.5" fill="#e2e2e2"/><ellipse cx="108.95" cy="372.0" rx="3.2" ry="6.0" fill="#6c6c6c"/><circle cx="110.45" cy="377.5" r="1.9" fill="#dedede"/></g></g>
<g filter="url(#fur)"><g transform="rotate(-1.35 130.80 346.00)"><path d="M130.80,316.00 L135.80,321.00 L140.30,327.00 L142.80,334.00 L143.80,346.00 L143.80,358.00 L143.30,366.00 L141.30,374.00 L136.80,380.00 L130.80,382.00 L124.80,380.00 L120.30,374.00 L118.30,366.00 L117.80,358.00 L117.80,346.00 L118.80,334.00 L121.30,327.00 L125.80,321.00 L130.80,316.00 Z" fill="#575757"/><path d="M130.80,306.00 L133.30,307.50 L135.30,311.00 L136.80,315.00 L138.30,320.00 L139.60,326.00 L140.30,331.00 L138.80,335.00 L130.80,336.00 L122.80,335.00 L121.30,331.00 L122.00,326.00 L123.30,320.00 L124.80,315.00 L126.30,311.00 L128.30,307.50 L130.80,306.00 Z" fill="#5c5c5c"/><path d="M130.80,334.00 L135.30,335.50 L138.80,342.00 L140.80,352.00 L141.30,362.00 L138.80,369.00 L130.80,371.00 L122.80,369.00 L120.30,362.00 L120.80,352.00 L122.80,342.00 L126.30,335.50 L130.80,334.00 Z" fill="url(#bgdadada)"/><ellipse cx="130.8" cy="374.0" rx="5.0" ry="5.5" fill="#7a7a7a"/><ellipse cx="130.8" cy="312.5" rx="2.0" ry="6.5" fill="#d0d0d0"/><circle cx="122.30000000000001" cy="328.0" r="1.5" fill="#e2e2e2"/><ellipse cx="119.80000000000001" cy="372.0" rx="3.2" ry="6.0" fill="#6c6c6c"/><circle cx="118.30000000000001" cy="377.5" r="1.9" fill="#dedede"/><circle cx="139.3" cy="328.0" r="1.5" fill="#e2e2e2"/><ellipse cx="141.8" cy="372.0" rx="3.2" ry="6.0" fill="#6c6c6c"/><circle cx="143.3" cy="377.5" r="1.9" fill="#dedede"/></g></g>
<g filter="url(#fur)"><g transform="rotate(-1.01 163.15 346.00)"><path d="M163.15,316.00 L168.15,321.00 L172.65,327.00 L175.15,334.00 L176.15,346.00 L176.15,358.00 L175.65,366.00 L173.65,374.00 L169.15,380.00 L163.15,382.00 L157.15,380.00 L152.65,374.00 L150.65,366.00 L150.15,358.00 L150.15,346.00 L151.15,334.00 L153.65,327.00 L158.15,321.00 L163.15,316.00 Z" fill="#575757"/><path d="M163.15,306.00 L165.65,307.50 L167.65,311.00 L169.15,315.00 L170.65,320.00 L171.95,326.00 L172.65,331.00 L171.15,335.00 L163.15,336.00 L155.15,335.00 L153.65,331.00 L154.35,326.00 L155.65,320.00 L157.15,315.00 L158.65,311.00 L160.65,307.50 L163.15,306.00 Z" fill="#5c5c5c"/><path d="M163.15,334.00 L167.65,335.50 L171.15,342.00 L173.15,352.00 L173.65,362.00 L171.15,369.00 L163.15,371.00 L155.15,369.00 L152.65,362.00 L153.15,352.00 L155.15,342.00 L158.65,335.50 L163.15,334.00 Z" fill="url(#bgdadada)"/><ellipse cx="163.15" cy="374.0" rx="5.0" ry="5.5" fill="#7a7a7a"/><ellipse cx="163.15" cy="312.5" rx="2.0" ry="6.5" fill="#d0d0d0"/><circle cx="154.65" cy="328.0" r="1.5" fill="#e2e2e2"/><ellipse cx="152.15" cy="372.0" rx="3.2" ry="6.0" fill="#6c6c6c"/><circle cx="150.65" cy="377.5" r="1.9" fill="#dedede"/><circle cx="171.65" cy="328.0" r="1.5" fill="#e2e2e2"/><ellipse cx="174.15" cy="372.0" rx="3.2" ry="6.0" fill="#6c6c6c"/><circle cx="175.65" cy="377.5" r="1.9" fill="#dedede"/></g></g>
<polyline points="35.5,377 35.5,392.5" fill="none" stroke="#6418f8" stroke-width="2.2" stroke-linecap="round" filter="url(#soft)"/>
<polyline points="66.8,377 66.8,392.5" fill="none" stroke="#dedede" stroke-width="2.2" stroke-linecap="round" filter="url(#soft)"/>
<polyline points="98,377 98,392.5" fill="none" stroke="#dedede" stroke-width="2.2" stroke-linecap="round" filter="url(#soft)"/>
<polyline points="131.8,377 131.8,392.5" fill="none" stroke="#6418f8" stroke-width="2.2" stroke-linecap="round" filter="url(#soft)"/>
<polyline points="163.9,377 163.9,392.5" fill="none" stroke="#dedede" stroke-width="2.2" stroke-linecap="round" filter="url(#soft)"/>
<g filter="url(#blobf)">
<ellipse cx="25.7" cy="362.4" rx="4.00" ry="6.00" fill="#6418f8"/>
<ellipse cx="45.1" cy="352" rx="4.00" ry="6.00" fill="#6418f8"/>
<ellipse cx="46.3" cy="363.5" rx="3.50" ry="3.50" fill="#6418f8"/>
<ellipse cx="23.4" cy="372.6" rx="3.00" ry="2.00" fill="#6418f8"/>
<ellipse cx="48.5" cy="376" rx="2.50" ry="2.50" fill="#6418f8"/>
<ellipse cx="62.2" cy="360" rx="8.00" ry="4.00" fill="#6418f8"/>
<ellipse cx="75.9" cy="349.8" rx="3.50" ry="5.00" fill="#6418f8"/>
<ellipse cx="76" cy="362" rx="3.50" ry="3.50" fill="#6418f8"/>
<ellipse cx="93.5" cy="331.3" rx="5.00" ry="1.50" fill="#6418f8"/>
<ellipse cx="87.2" cy="362.7" rx="4.00" ry="4.00" fill="#6418f8"/>
<ellipse cx="107.7" cy="360.2" rx="3.50" ry="6.00" fill="#6418f8"/>
<ellipse cx="83" cy="373" rx="2.50" ry="2.50" fill="#6418f8"/>
<ellipse cx="110" cy="375" rx="2.50" ry="2.50" fill="#6418f8"/>
<ellipse cx="121" cy="359" rx="4.00" ry="4.00" fill="#6418f8"/>
<ellipse cx="140.2" cy="354.2" rx="3.50" ry="5.50" fill="#6418f8"/>
<ellipse cx="139" cy="363.9" rx="3.00" ry="3.00" fill="#6418f8"/>
<ellipse cx="162.7" cy="307.5" rx="1.50" ry="2.00" fill="#6418f8"/>
<ellipse cx="162" cy="336" rx="2.00" ry="8.00" fill="#6418f8"/>
<ellipse cx="162.7" cy="346" rx="9.00" ry="6.00" fill="#6418f8"/>
<ellipse cx="172.3" cy="354.2" rx="3.50" ry="5.50" fill="#6418f8"/>
<ellipse cx="153" cy="363.9" rx="4.00" ry="4.00" fill="#6418f8"/>
<ellipse cx="173.6" cy="365" rx="3.00" ry="3.00" fill="#6418f8"/>
<ellipse cx="45.1" cy="352" rx="3.12" ry="4.68" fill="#2238ff"/>
<ellipse cx="62.2" cy="360" rx="6.24" ry="3.12" fill="#2238ff"/>
<ellipse cx="75.9" cy="349.8" rx="2.73" ry="3.90" fill="#2238ff"/>
<ellipse cx="107.7" cy="360.2" rx="2.73" ry="4.68" fill="#2238ff"/>
<ellipse cx="140.2" cy="354.2" rx="2.73" ry="4.29" fill="#2238ff"/>
<ellipse cx="162.7" cy="346" rx="7.02" ry="4.68" fill="#2238ff"/>
<ellipse cx="172.3" cy="354.2" rx="2.73" ry="4.29" fill="#2238ff"/>
</g>
<g filter="url(#blobf2)">
<ellipse cx="45.1" cy="352" rx="2.48" ry="3.72" fill="#00c8ff"/>
<ellipse cx="75.9" cy="349.8" rx="2.17" ry="3.10" fill="#00c8ff"/>
<ellipse cx="140.2" cy="354.2" rx="2.17" ry="3.41" fill="#00c8ff"/>
<ellipse cx="172.3" cy="354.2" rx="2.17" ry="3.41" fill="#00c8ff"/>
<ellipse cx="45.1" cy="352" rx="2.00" ry="3.00" fill="#28f048"/>
<ellipse cx="140.2" cy="354.2" rx="1.75" ry="2.75" fill="#28f048"/>
<ellipse cx="172.3" cy="354.2" rx="1.75" ry="2.75" fill="#28f048"/>
</g>
<polygon points="19.7,215 22,215.3 25.5,217.5 20.5,224.5 19.7,224.5" fill="#f4f4f4" filter="url(#soft)"/>
<polygon points="20,211.5 30,211.5 28,215 22,215" fill="#111" filter="url(#soft)"/>
<polygon points="107.5,212 114.5,212 114,216 110,219" fill="#111" filter="url(#soft)"/>
<polygon points="103.5,214.5 107.5,213.5 111.8,219 108,222.5 104,220.5" fill="#f0f0f0" filter="url(#soft)"/>
<polygon points="114,215 118,214.5 120,217.5 115,224.5 114,222" fill="#f4f4f4" filter="url(#soft)"/>
<polygon points="19.7,308.5 22,308.8 25.5,311.0 20.5,318.0 19.7,318.0" fill="#f4f4f4" filter="url(#soft)"/>
<polygon points="20,305.0 30,305.0 28,308.5 22,308.5" fill="#111" filter="url(#soft)"/>
<polygon points="107.5,305.5 114.5,305.5 114,309.5 110,312.5" fill="#111" filter="url(#soft)"/>
<polygon points="103.5,308.0 107.5,307.0 111.8,312.5 108,316.0 104,314.0" fill="#f0f0f0" filter="url(#soft)"/>
<polygon points="114,308.5 118,308.0 120,311.0 115,318.0 114,315.5" fill="#f4f4f4" filter="url(#soft)"/>
<rect x="193" y="202" width="5" height="190.5" fill="url(#cbB)"/>
<line x1="198" y1="201.8" x2="199.8" y2="201.8" stroke="#666" stroke-width="0.6"/>
<line x1="198" y1="209.65" x2="199.8" y2="209.65" stroke="#666" stroke-width="0.6"/>
<line x1="198" y1="217.5" x2="199.8" y2="217.5" stroke="#666" stroke-width="0.6"/>
<line x1="198" y1="225.35000000000002" x2="199.8" y2="225.35000000000002" stroke="#666" stroke-width="0.6"/>
<line x1="198" y1="233.20000000000002" x2="199.8" y2="233.20000000000002" stroke="#666" stroke-width="0.6"/>
<line x1="198" y1="241.05" x2="199.8" y2="241.05" stroke="#666" stroke-width="0.6"/>
<line x1="198" y1="248.9" x2="199.8" y2="248.9" stroke="#666" stroke-width="0.6"/>
<line x1="198" y1="256.75" x2="199.8" y2="256.75" stroke="#666" stroke-width="0.6"/>
<line x1="198" y1="264.6" x2="199.8" y2="264.6" stroke="#666" stroke-width="0.6"/>
<line x1="198" y1="272.45000000000005" x2="199.8" y2="272.45000000000005" stroke="#666" stroke-width="0.6"/>
<line x1="198" y1="280.3" x2="199.8" y2="280.3" stroke="#666" stroke-width="0.6"/>
<line x1="198" y1="288.15" x2="199.8" y2="288.15" stroke="#666" stroke-width="0.6"/>
<line x1="198" y1="296.0" x2="199.8" y2="296.0" stroke="#666" stroke-width="0.6"/>
<line x1="198" y1="303.85" x2="199.8" y2="303.85" stroke="#666" stroke-width="0.6"/>
<line x1="198" y1="311.70000000000005" x2="199.8" y2="311.70000000000005" stroke="#666" stroke-width="0.6"/>
<line x1="198" y1="319.55" x2="199.8" y2="319.55" stroke="#666" stroke-width="0.6"/>
<line x1="198" y1="327.4" x2="199.8" y2="327.4" stroke="#666" stroke-width="0.6"/>
<line x1="198" y1="335.25" x2="199.8" y2="335.25" stroke="#666" stroke-width="0.6"/>
<line x1="198" y1="343.1" x2="199.8" y2="343.1" stroke="#666" stroke-width="0.6"/>
<line x1="198" y1="350.95000000000005" x2="199.8" y2="350.95000000000005" stroke="#666" stroke-width="0.6"/>
<line x1="198" y1="358.8" x2="199.8" y2="358.8" stroke="#666" stroke-width="0.6"/>
<line x1="198" y1="366.65" x2="199.8" y2="366.65" stroke="#666" stroke-width="0.6"/>
<line x1="198" y1="374.5" x2="199.8" y2="374.5" stroke="#666" stroke-width="0.6"/>
<line x1="198" y1="382.35" x2="199.8" y2="382.35" stroke="#666" stroke-width="0.6"/>
<line x1="198" y1="390.20000000000005" x2="199.8" y2="390.20000000000005" stroke="#666" stroke-width="0.6"/>
<text x="0" y="0" font-size="3.6" font-weight="normal" text-anchor="start" transform="translate(202.5 203.06) scale(1 1.0)" fill="#222">5000</text>
<text x="0" y="0" font-size="3.6" font-weight="normal" text-anchor="start" transform="translate(202.5 242.56) scale(1 1.0)" fill="#222">4000</text>
<text x="0" y="0" font-size="3.6" font-weight="normal" text-anchor="start" transform="translate(202.5 281.86) scale(1 1.0)" fill="#222">3000</text>
<text x="0" y="0" font-size="3.6" font-weight="normal" text-anchor="start" transform="translate(202.5 321.06) scale(1 1.0)" fill="#222">2000</text>
<text x="0" y="0" font-size="3.6" font-weight="normal" text-anchor="start" transform="translate(202.5 360.06) scale(1 1.0)" fill="#222">1000</text>
<text x="0" y="0" font-size="13.4" font-weight="normal" text-anchor="middle" transform="translate(15.5 64.7) rotate(-90)">unloaded</text>
<text x="0" y="0" font-size="12.7" font-weight="normal" text-anchor="middle" transform="translate(15.5 151.7) rotate(-90)">alphaGC loaded</text>
<text x="0" y="0" font-size="12.5" font-weight="normal" text-anchor="middle" transform="translate(17 254.6) rotate(-90)">untreated</text>
<text x="0" y="0" font-size="12" font-weight="normal" text-anchor="middle" transform="translate(18 340.2) rotate(-90)">+ vaccine</text>
<line x1="240.4" y1="53.55" x2="240.4" y2="151.8" stroke="#000" stroke-width="1.1"/>
<line x1="239.9" y1="151.3" x2="351.8" y2="151.3" stroke="#000" stroke-width="1.1"/>
<line x1="237.70000000000002" y1="151.3" x2="240.4" y2="151.3" stroke="#000" stroke-width="1.1"/>
<text x="0" y="0" font-size="8.9" font-weight="bold" text-anchor="end" transform="translate(235.8 154.50400000000002) scale(1 1.0)">0</text>
<line x1="237.70000000000002" y1="118.9" x2="240.4" y2="118.9" stroke="#000" stroke-width="1.1"/>
<text x="0" y="0" font-size="8.9" font-weight="bold" text-anchor="end" transform="translate(235.8 122.104) scale(1 1.0)">5</text>
<line x1="237.70000000000002" y1="86.5" x2="240.4" y2="86.5" stroke="#000" stroke-width="1.1"/>
<text x="0" y="0" font-size="8.9" font-weight="bold" text-anchor="end" transform="translate(235.8 89.704) scale(1 1.0)">10</text>
<line x1="237.70000000000002" y1="54.099999999999994" x2="240.4" y2="54.099999999999994" stroke="#000" stroke-width="1.1"/>
<text x="0" y="0" font-size="8.9" font-weight="bold" text-anchor="end" transform="translate(235.8 57.303999999999995) scale(1 1.0)">15</text>
<line x1="254.5" y1="151.3" x2="254.5" y2="154.3" stroke="#000" stroke-width="1.1"/>
<text x="0" y="0" font-size="8.9" font-weight="bold" text-anchor="middle" transform="translate(254.5 163) scale(1 1.0)">3</text>
<line x1="282.2" y1="151.3" x2="282.2" y2="154.3" stroke="#000" stroke-width="1.1"/>
<text x="0" y="0" font-size="8.9" font-weight="bold" text-anchor="middle" transform="translate(282.2 163) scale(1 1.0)">4</text>
<line x1="310.1" y1="151.3" x2="310.1" y2="154.3" stroke="#000" stroke-width="1.1"/>
<text x="0" y="0" font-size="8.9" font-weight="bold" text-anchor="middle" transform="translate(310.1 163) scale(1 1.0)">5</text>
<line x1="337.8" y1="151.3" x2="337.8" y2="154.3" stroke="#000" stroke-width="1.1"/>
<text x="0" y="0" font-size="8.9" font-weight="bold" text-anchor="middle" transform="translate(337.8 163) scale(1 1.0)">6</text>
<polyline points="254.5,150.328 282.2,131.5 310.1,82.4" fill="none" stroke="#000" stroke-width="1.5"/>
<polyline points="254.5,151.3 282.2,147.4 310.1,142.8 337.8,128" fill="none" stroke="#000" stroke-width="1.5"/>
<line x1="282.2" y1="126" x2="282.2" y2="137.4" stroke="#333" stroke-width="1.0"/>
<line x1="279.7" y1="126" x2="284.7" y2="126" stroke="#333" stroke-width="1.0"/>
<line x1="279.7" y1="137.4" x2="284.7" y2="137.4" stroke="#333" stroke-width="1.0"/>
<line x1="310.1" y1="65.2" x2="310.1" y2="99.6" stroke="#333" stroke-width="1.0"/>
<line x1="307.6" y1="65.2" x2="312.6" y2="65.2" stroke="#333" stroke-width="1.0"/>
<line x1="307.6" y1="99.6" x2="312.6" y2="99.6" stroke="#333" stroke-width="1.0"/>
<line x1="310.1" y1="139" x2="310.1" y2="147" stroke="#333" stroke-width="1.0"/>
<line x1="307.6" y1="139" x2="312.6" y2="139" stroke="#333" stroke-width="1.0"/>
<line x1="307.6" y1="147" x2="312.6" y2="147" stroke="#333" stroke-width="1.0"/>
<line x1="337.8" y1="120" x2="337.8" y2="135.8" stroke="#333" stroke-width="1.0"/>
<line x1="335.3" y1="120" x2="340.3" y2="120" stroke="#333" stroke-width="1.0"/>
<line x1="335.3" y1="135.8" x2="340.3" y2="135.8" stroke="#333" stroke-width="1.0"/>
<rect x="252.45" y="149.25" width="4.1" height="4.1" fill="none" stroke="#000" stroke-width="1.2"/>
<rect x="280.15000000000003" y="145.35" width="4.1" height="4.1" fill="none" stroke="#000" stroke-width="1.2"/>
<rect x="308.05000000000007" y="140.75" width="4.1" height="4.1" fill="none" stroke="#000" stroke-width="1.2"/>
<rect x="335.75000000000006" y="125.94999999999999" width="4.1" height="4.1" fill="none" stroke="#000" stroke-width="1.2"/>
<rect x="251.85" y="147.678" width="5.3" height="5.3" fill="#000"/>
<rect x="279.55" y="128.85" width="5.3" height="5.3" fill="#000"/>
<rect x="307.45000000000005" y="79.75" width="5.3" height="5.3" fill="#000"/>
<text x="252.70" y="145.94" font-size="10.5" text-anchor="middle">*</text>
<text x="257.30" y="145.94" font-size="10.5" text-anchor="middle">*</text>
<text x="282.10" y="125.24" font-size="10.5" text-anchor="middle">*</text>
<text x="307.90" y="67.24" font-size="10.5" text-anchor="middle">*</text>
<text x="312.10" y="67.24" font-size="10.5" text-anchor="middle">*</text>
<line x1="245.7" y1="37.8" x2="256.9" y2="37.8" stroke="#000" stroke-width="1.3"/>
<rect x="248.99999999999997" y="35.5" width="4.6" height="4.6" fill="#000"/>
<text x="0" y="0" font-size="7.7" font-weight="normal" text-anchor="start" transform="translate(262.7 40.956999999999994) scale(1 1.0)">unloaded AML-ETO tumor</text>
<line x1="245.7" y1="49.3" x2="256.9" y2="49.3" stroke="#000" stroke-width="1.3"/>
<rect x="249.04999999999998" y="47.05" width="4.5" height="4.5" fill="none" stroke="#000" stroke-width="1.1"/>
<text x="0" y="0" font-size="7.75" font-weight="normal" text-anchor="start" transform="translate(262.7 52.4775) scale(1 1.0)">&#945;GC-loaded AML-ETO tumor</text>
<text x="220.6" y="99.5" font-size="9" font-weight="bold" text-anchor="middle" transform="rotate(-90 220.6 99.5)">Counts (x10<tspan font-size="6" dy="-3.8">6</tspan><tspan dy="3.8">)</tspan></text>
<text x="0" y="0" font-size="9.3" font-weight="bold" text-anchor="middle" transform="translate(295.5 175.3) scale(1 1.0)">Weeks post-tumor inoculation</text>
<line x1="394.3" y1="54.5" x2="394.3" y2="153.9" stroke="#000" stroke-width="1.1"/>
<line x1="393.8" y1="151.4" x2="512.75" y2="151.4" stroke="#000" stroke-width="1.1"/>
<line x1="390.90000000000003" y1="151.4" x2="394.3" y2="151.4" stroke="#000" stroke-width="1.1"/>
<text x="0" y="0" font-size="8.6" font-weight="bold" text-anchor="end" transform="translate(389.40000000000003 154.496) scale(1 1.0)">0</text>
<line x1="390.90000000000003" y1="132.92000000000002" x2="394.3" y2="132.92000000000002" stroke="#000" stroke-width="1.1"/>
<text x="0" y="0" font-size="8.6" font-weight="bold" text-anchor="end" transform="translate(389.40000000000003 136.01600000000002) scale(1 1.0)">20</text>
<line x1="390.90000000000003" y1="114.44" x2="394.3" y2="114.44" stroke="#000" stroke-width="1.1"/>
<text x="0" y="0" font-size="8.6" font-weight="bold" text-anchor="end" transform="translate(389.40000000000003 117.536) scale(1 1.0)">40</text>
<line x1="390.90000000000003" y1="95.96000000000001" x2="394.3" y2="95.96000000000001" stroke="#000" stroke-width="1.1"/>
<text x="0" y="0" font-size="8.6" font-weight="bold" text-anchor="end" transform="translate(389.40000000000003 99.05600000000001) scale(1 1.0)">60</text>
<line x1="390.90000000000003" y1="77.48" x2="394.3" y2="77.48" stroke="#000" stroke-width="1.1"/>
<text x="0" y="0" font-size="8.6" font-weight="bold" text-anchor="end" transform="translate(389.40000000000003 80.57600000000001) scale(1 1.0)">80</text>
<line x1="390.90000000000003" y1="59.0" x2="394.3" y2="59.0" stroke="#000" stroke-width="1.1"/>
<text x="0" y="0" font-size="8.6" font-weight="bold" text-anchor="end" transform="translate(389.40000000000003 62.096) scale(1 1.0)">100</text>
<line x1="394.3" y1="151.4" x2="394.3" y2="154.4" stroke="#000" stroke-width="1.1"/>
<text x="0" y="0" font-size="8.6" font-weight="bold" text-anchor="middle" transform="translate(394.3 163) scale(1 1.0)">0</text>
<line x1="413.95" y1="151.4" x2="413.95" y2="154.4" stroke="#000" stroke-width="1.1"/>
<text x="0" y="0" font-size="8.6" font-weight="bold" text-anchor="middle" transform="translate(413.95 163) scale(1 1.0)">10</text>
<line x1="433.6" y1="151.4" x2="433.6" y2="154.4" stroke="#000" stroke-width="1.1"/>
<text x="0" y="0" font-size="8.6" font-weight="bold" text-anchor="middle" transform="translate(433.6 163) scale(1 1.0)">20</text>
<line x1="453.25" y1="151.4" x2="453.25" y2="154.4" stroke="#000" stroke-width="1.1"/>
<text x="0" y="0" font-size="8.6" font-weight="bold" text-anchor="middle" transform="translate(453.25 163) scale(1 1.0)">30</text>
<line x1="472.9" y1="151.4" x2="472.9" y2="154.4" stroke="#000" stroke-width="1.1"/>
<text x="0" y="0" font-size="8.6" font-weight="bold" text-anchor="middle" transform="translate(472.9 163) scale(1 1.0)">40</text>
<line x1="492.55" y1="151.4" x2="492.55" y2="154.4" stroke="#000" stroke-width="1.1"/>
<text x="0" y="0" font-size="8.6" font-weight="bold" text-anchor="middle" transform="translate(492.55 163) scale(1 1.0)">50</text>
<line x1="512.2" y1="151.4" x2="512.2" y2="154.4" stroke="#000" stroke-width="1.1"/>
<text x="0" y="0" font-size="8.6" font-weight="bold" text-anchor="middle" transform="translate(512.2 163) scale(1 1.0)">60</text>
<polyline points="394.30,59.00 463.08,59.00 463.08,77.48 467.00,77.48 467.00,114.44 470.94,114.44 470.94,132.92 476.83,132.92 476.83,151.40" fill="none" stroke="#000" stroke-width="1.15"/>
<polyline points="394.30,59.00 472.90,59.00 472.90,77.48 482.73,77.48 482.73,95.96 488.62,95.96 488.62,114.44 500.41,114.44 500.41,132.92 504.34,132.92 504.34,151.40" fill="none" stroke="#000" stroke-width="1.15"/>
<rect x="460.475" y="74.88000000000001" width="5.2" height="5.2" fill="#000"/>
<rect x="464.405" y="111.84" width="5.2" height="5.2" fill="#000"/>
<rect x="468.335" y="130.32000000000002" width="5.2" height="5.2" fill="#000"/>
<rect x="474.23" y="148.8" width="5.2" height="5.2" fill="#000"/>
<rect x="470.9" y="75.48" width="4.0" height="4.0" fill="none" stroke="#000" stroke-width="1.2"/>
<rect x="480.725" y="93.96000000000001" width="4.0" height="4.0" fill="none" stroke="#000" stroke-width="1.2"/>
<rect x="486.62" y="112.44" width="4.0" height="4.0" fill="none" stroke="#000" stroke-width="1.2"/>
<rect x="498.40999999999997" y="130.92000000000002" width="4.0" height="4.0" fill="none" stroke="#000" stroke-width="1.2"/>
<rect x="502.34000000000003" y="149.4" width="4.0" height="4.0" fill="none" stroke="#000" stroke-width="1.2"/>
<line x1="363.8" y1="30.9" x2="374.7" y2="30.9" stroke="#000" stroke-width="1.3"/>
<rect x="366.75" y="28.4" width="5" height="5" fill="#000"/>
<text x="0" y="0" font-size="9.14" font-weight="normal" text-anchor="start" transform="translate(380.3 34.6474) scale(1 1.0)">unloaded AML-ETO tumor</text>
<line x1="363.8" y1="42.0" x2="374.7" y2="42.0" stroke="#000" stroke-width="1.3"/>
<rect x="367.0" y="39.75" width="4.5" height="4.5" fill="none" stroke="#000" stroke-width="1.1"/>
<text x="0" y="0" font-size="9.2" font-weight="normal" text-anchor="start" transform="translate(380.3 45.772) scale(1 1.0)">&#945;GC-loaded AML-ETO tumor</text>
<line x1="505.3" y1="29.5" x2="505.3" y2="45.2" stroke="#000" stroke-width="1.1"/>
<text x="509.40" y="41.54" font-size="10.5" text-anchor="middle">*</text>
<text x="513.80" y="41.54" font-size="10.5" text-anchor="middle">*</text>
<text x="0" y="0" font-size="9.1" font-weight="bold" text-anchor="middle" transform="translate(373 100.6) rotate(-90)">% survival</text>
<text x="0" y="0" font-size="9.15" font-weight="bold" text-anchor="middle" transform="translate(452.8 175.5) scale(1 1.0)">Days post-tumor inoculation</text>
<line x1="245.6" y1="249.64999999999998" x2="245.6" y2="355.4" stroke="#000" stroke-width="1.1"/>
<line x1="245.1" y1="354.9" x2="364" y2="354.9" stroke="#000" stroke-width="1.1"/>
<line x1="242.5" y1="354.9" x2="245.6" y2="354.9" stroke="#000" stroke-width="1.1"/>
<text x="0" y="0" font-size="9.3" font-weight="bold" text-anchor="end" transform="translate(241.0 358.248) scale(1 1.0)">0</text>
<line x1="242.5" y1="328.72499999999997" x2="245.6" y2="328.72499999999997" stroke="#000" stroke-width="1.1"/>
<text x="0" y="0" font-size="9.3" font-weight="bold" text-anchor="end" transform="translate(241.0 332.073) scale(1 1.0)">5</text>
<line x1="242.5" y1="302.54999999999995" x2="245.6" y2="302.54999999999995" stroke="#000" stroke-width="1.1"/>
<text x="0" y="0" font-size="9.3" font-weight="bold" text-anchor="end" transform="translate(241.0 305.89799999999997) scale(1 1.0)">10</text>
<line x1="242.5" y1="276.375" x2="245.6" y2="276.375" stroke="#000" stroke-width="1.1"/>
<text x="0" y="0" font-size="9.3" font-weight="bold" text-anchor="end" transform="translate(241.0 279.723) scale(1 1.0)">15</text>
<line x1="242.5" y1="250.2" x2="245.6" y2="250.2" stroke="#000" stroke-width="1.1"/>
<text x="0" y="0" font-size="9.3" font-weight="bold" text-anchor="end" transform="translate(241.0 253.548) scale(1 1.0)">20</text>
<line x1="260.5" y1="354.9" x2="260.5" y2="357.9" stroke="#000" stroke-width="1.1"/>
<text x="0" y="0" font-size="9.3" font-weight="bold" text-anchor="middle" transform="translate(260.5 368.3) scale(1 1.0)">2</text>
<line x1="289.7" y1="354.9" x2="289.7" y2="357.9" stroke="#000" stroke-width="1.1"/>
<text x="0" y="0" font-size="9.3" font-weight="bold" text-anchor="middle" transform="translate(289.7 368.3) scale(1 1.0)">3</text>
<line x1="318.9" y1="354.9" x2="318.9" y2="357.9" stroke="#000" stroke-width="1.1"/>
<text x="0" y="0" font-size="9.3" font-weight="bold" text-anchor="middle" transform="translate(318.9 368.3) scale(1 1.0)">4</text>
<line x1="348.3" y1="354.9" x2="348.3" y2="357.9" stroke="#000" stroke-width="1.1"/>
<text x="0" y="0" font-size="9.3" font-weight="bold" text-anchor="middle" transform="translate(348.3 368.3) scale(1 1.0)">5</text>
<polyline points="260.5,353.4 289.7,352.6 318.9,337.4 348.3,290" fill="none" stroke="#000" stroke-width="1.5"/>
<polyline points="260.5,354.4 289.7,354.2 318.9,354.0 348.3,338.2" fill="none" stroke="#000" stroke-width="1.5"/>
<line x1="318.9" y1="334" x2="318.9" y2="341" stroke="#333" stroke-width="1.0"/>
<line x1="316.4" y1="334" x2="321.4" y2="334" stroke="#333" stroke-width="1.0"/>
<line x1="316.4" y1="341" x2="321.4" y2="341" stroke="#333" stroke-width="1.0"/>
<line x1="348.3" y1="276.7" x2="348.3" y2="302.8" stroke="#333" stroke-width="1.0"/>
<line x1="345.8" y1="276.7" x2="350.8" y2="276.7" stroke="#333" stroke-width="1.0"/>
<line x1="345.8" y1="302.8" x2="350.8" y2="302.8" stroke="#333" stroke-width="1.0"/>
<line x1="348.3" y1="332.5" x2="348.3" y2="343.1" stroke="#333" stroke-width="1.0"/>
<line x1="345.8" y1="332.5" x2="350.8" y2="332.5" stroke="#333" stroke-width="1.0"/>
<line x1="345.8" y1="343.1" x2="350.8" y2="343.1" stroke="#333" stroke-width="1.0"/>
<rect x="258.1" y="352.0" width="4.8" height="4.8" fill="none" stroke="#000" stroke-width="1.2"/>
<rect x="287.3" y="351.8" width="4.8" height="4.8" fill="none" stroke="#000" stroke-width="1.2"/>
<rect x="316.5" y="351.6" width="4.8" height="4.8" fill="none" stroke="#000" stroke-width="1.2"/>
<rect x="345.90000000000003" y="335.8" width="4.8" height="4.8" fill="none" stroke="#000" stroke-width="1.2"/>
<rect x="257.5" y="350.4" width="6" height="6" fill="#000"/>
<rect x="286.7" y="349.6" width="6" height="6" fill="#000"/>
<rect x="315.9" y="334.4" width="6" height="6" fill="#000"/>
<rect x="345.3" y="287.0" width="6" height="6" fill="#000"/>
<line x1="260.5" y1="329.6" x2="260.5" y2="342" stroke="#000" stroke-width="1.3"/>
<path d="M258.1,339.8 L262.9,339.8 L260.5,346.6 Z" fill="#000"/>
<text x="0" y="0" font-size="9.5" font-weight="normal" text-anchor="middle" transform="translate(291.2 343.5) scale(1 1.0)">ns</text>
<text x="319.20" y="330.04" font-size="10.5" text-anchor="middle">*</text>
<text x="348.30" y="274.24" font-size="10.5" text-anchor="middle">*</text>
<line x1="261.5" y1="251.5" x2="273" y2="251.5" stroke="#000" stroke-width="1.3"/>
<rect x="264.65" y="248.9" width="5.2" height="5.2" fill="#000"/>
<text x="0" y="0" font-size="9.37" font-weight="normal" text-anchor="start" transform="translate(279.7 255.3417) scale(1 1.0)">untreated</text>
<line x1="261.5" y1="262.7" x2="273" y2="262.7" stroke="#000" stroke-width="1.3"/>
<rect x="265.0" y="260.45" width="4.5" height="4.5" fill="none" stroke="#000" stroke-width="1.1"/>
<text x="0" y="0" font-size="9.4" font-weight="normal" text-anchor="start" transform="translate(279.7 266.554) scale(1 1.0)">+ vaccine</text>
<text x="224.6" y="301.4" font-size="10.4" font-weight="bold" text-anchor="middle" transform="rotate(-90 224.6 301.4)">Counts (x10<tspan font-size="6.5" dy="-4">6</tspan><tspan dy="4">)</tspan></text>
<text x="0" y="0" font-size="10" font-weight="bold" text-anchor="middle" transform="translate(303.6 381.8) scale(1 1.0)">Weeks post-tumor inoculation</text>
<line x1="393.2" y1="250.4" x2="393.2" y2="356.5" stroke="#000" stroke-width="1.1"/>
<line x1="392.7" y1="354.0" x2="511.95" y2="354.0" stroke="#000" stroke-width="1.1"/>
<line x1="389.9" y1="354.0" x2="393.2" y2="354.0" stroke="#000" stroke-width="1.1"/>
<text x="0" y="0" font-size="9.0" font-weight="bold" text-anchor="end" transform="translate(388.2 357.24) scale(1 1.0)">0</text>
<line x1="389.9" y1="334.28" x2="393.2" y2="334.28" stroke="#000" stroke-width="1.1"/>
<text x="0" y="0" font-size="9.0" font-weight="bold" text-anchor="end" transform="translate(388.2 337.52) scale(1 1.0)">20</text>
<line x1="389.9" y1="314.56" x2="393.2" y2="314.56" stroke="#000" stroke-width="1.1"/>
<text x="0" y="0" font-size="9.0" font-weight="bold" text-anchor="end" transform="translate(388.2 317.8) scale(1 1.0)">40</text>
<line x1="389.9" y1="294.84000000000003" x2="393.2" y2="294.84000000000003" stroke="#000" stroke-width="1.1"/>
<text x="0" y="0" font-size="9.0" font-weight="bold" text-anchor="end" transform="translate(388.2 298.08000000000004) scale(1 1.0)">60</text>
<line x1="389.9" y1="275.12" x2="393.2" y2="275.12" stroke="#000" stroke-width="1.1"/>
<text x="0" y="0" font-size="9.0" font-weight="bold" text-anchor="end" transform="translate(388.2 278.36) scale(1 1.0)">80</text>
<line x1="389.9" y1="255.4" x2="393.2" y2="255.4" stroke="#000" stroke-width="1.1"/>
<text x="0" y="0" font-size="9.0" font-weight="bold" text-anchor="end" transform="translate(388.2 258.64) scale(1 1.0)">100</text>
<line x1="393.2" y1="354.0" x2="393.2" y2="357.0" stroke="#000" stroke-width="1.1"/>
<text x="0" y="0" font-size="9.0" font-weight="bold" text-anchor="middle" transform="translate(393.2 367.7) scale(1 1.0)">0</text>
<line x1="412.9" y1="354.0" x2="412.9" y2="357.0" stroke="#000" stroke-width="1.1"/>
<text x="0" y="0" font-size="9.0" font-weight="bold" text-anchor="middle" transform="translate(412.9 367.7) scale(1 1.0)">10</text>
<line x1="432.59999999999997" y1="354.0" x2="432.59999999999997" y2="357.0" stroke="#000" stroke-width="1.1"/>
<text x="0" y="0" font-size="9.0" font-weight="bold" text-anchor="middle" transform="translate(432.59999999999997 367.7) scale(1 1.0)">20</text>
<line x1="452.29999999999995" y1="354.0" x2="452.29999999999995" y2="357.0" stroke="#000" stroke-width="1.1"/>
<text x="0" y="0" font-size="9.0" font-weight="bold" text-anchor="middle" transform="translate(452.29999999999995 367.7) scale(1 1.0)">30</text>
<line x1="472.0" y1="354.0" x2="472.0" y2="357.0" stroke="#000" stroke-width="1.1"/>
<text x="0" y="0" font-size="9.0" font-weight="bold" text-anchor="middle" transform="translate(472.0 367.7) scale(1 1.0)">40</text>
<line x1="491.7" y1="354.0" x2="491.7" y2="357.0" stroke="#000" stroke-width="1.1"/>
<text x="0" y="0" font-size="9.0" font-weight="bold" text-anchor="middle" transform="translate(491.7 367.7) scale(1 1.0)">50</text>
<line x1="511.4" y1="354.0" x2="511.4" y2="357.0" stroke="#000" stroke-width="1.1"/>
<text x="0" y="0" font-size="9.0" font-weight="bold" text-anchor="middle" transform="translate(511.4 367.7) scale(1 1.0)">60</text>
<polyline points="393.20,255.40 462.15,255.40 462.15,294.84 466.09,294.84 466.09,314.56 468.06,314.56 468.06,334.28 470.03,334.28 470.03,354.00" fill="none" stroke="#000" stroke-width="1.15"/>
<polyline points="393.20,255.40 473.97,255.40 473.97,275.12 481.85,275.12 481.85,294.84 487.76,294.84 487.76,314.56 491.70,314.56 491.70,334.28 493.67,334.28 493.67,354.00" fill="none" stroke="#000" stroke-width="1.15"/>
<rect x="459.45" y="292.14000000000004" width="5.4" height="5.4" fill="#000"/>
<rect x="463.39" y="311.86" width="5.4" height="5.4" fill="#000"/>
<rect x="465.36" y="331.58" width="5.4" height="5.4" fill="#000"/>
<rect x="467.33" y="351.3" width="5.4" height="5.4" fill="#000"/>
<rect x="471.87" y="273.02000000000004" width="4.2" height="4.2" fill="none" stroke="#000" stroke-width="1.2"/>
<rect x="479.75000000000006" y="292.74000000000007" width="4.2" height="4.2" fill="none" stroke="#000" stroke-width="1.2"/>
<rect x="485.66" y="312.46000000000004" width="4.2" height="4.2" fill="none" stroke="#000" stroke-width="1.2"/>
<rect x="489.6" y="332.18" width="4.2" height="4.2" fill="none" stroke="#000" stroke-width="1.2"/>
<rect x="491.57" y="351.90000000000003" width="4.2" height="4.2" fill="none" stroke="#000" stroke-width="1.2"/>
<line x1="396.3" y1="234.5" x2="407.1" y2="234.5" stroke="#000" stroke-width="1.3"/>
<rect x="399.40000000000003" y="232.2" width="4.6" height="4.6" fill="#000"/>
<text x="0" y="0" font-size="9.37" font-weight="normal" text-anchor="start" transform="translate(413.7 238.3417) scale(1 1.0)">untreated</text>
<line x1="396.3" y1="245.4" x2="407.1" y2="245.4" stroke="#000" stroke-width="1.3"/>
<rect x="399.45000000000005" y="243.15" width="4.5" height="4.5" fill="none" stroke="#000" stroke-width="1.1"/>
<text x="0" y="0" font-size="9.4" font-weight="normal" text-anchor="start" transform="translate(413.7 249.25400000000002) scale(1 1.0)">+ vaccine</text>
<line x1="458.2" y1="233.5" x2="458.2" y2="247.8" stroke="#000" stroke-width="1"/>
<text x="463.35" y="247.14" font-size="10.5" text-anchor="middle">*</text>
<text x="467.45" y="247.14" font-size="10.5" text-anchor="middle">*</text>
<text x="0" y="0" font-size="10" font-weight="bold" text-anchor="middle" transform="translate(371.3 298.7) rotate(-90)">% survival</text>
<text x="0" y="0" font-size="9.75" font-weight="bold" text-anchor="middle" transform="translate(450.8 380.5) scale(1 1.0)">Days post-tumor inoculation</text>
<defs><radialGradient id="bga0a0a0" cx="0.5" cy="0.6" r="0.6"><stop offset="0" stop-color="#a0a0a0"/><stop offset="0.6" stop-color="#a0a0a0"/><stop offset="1" stop-color="#7a7a7a"/></radialGradient><radialGradient id="bgdadada" cx="0.5" cy="0.6" r="0.6"><stop offset="0" stop-color="#dadada"/><stop offset="0.6" stop-color="#dadada"/><stop offset="1" stop-color="#7a7a7a"/></radialGradient></defs>
</svg></body></html>
